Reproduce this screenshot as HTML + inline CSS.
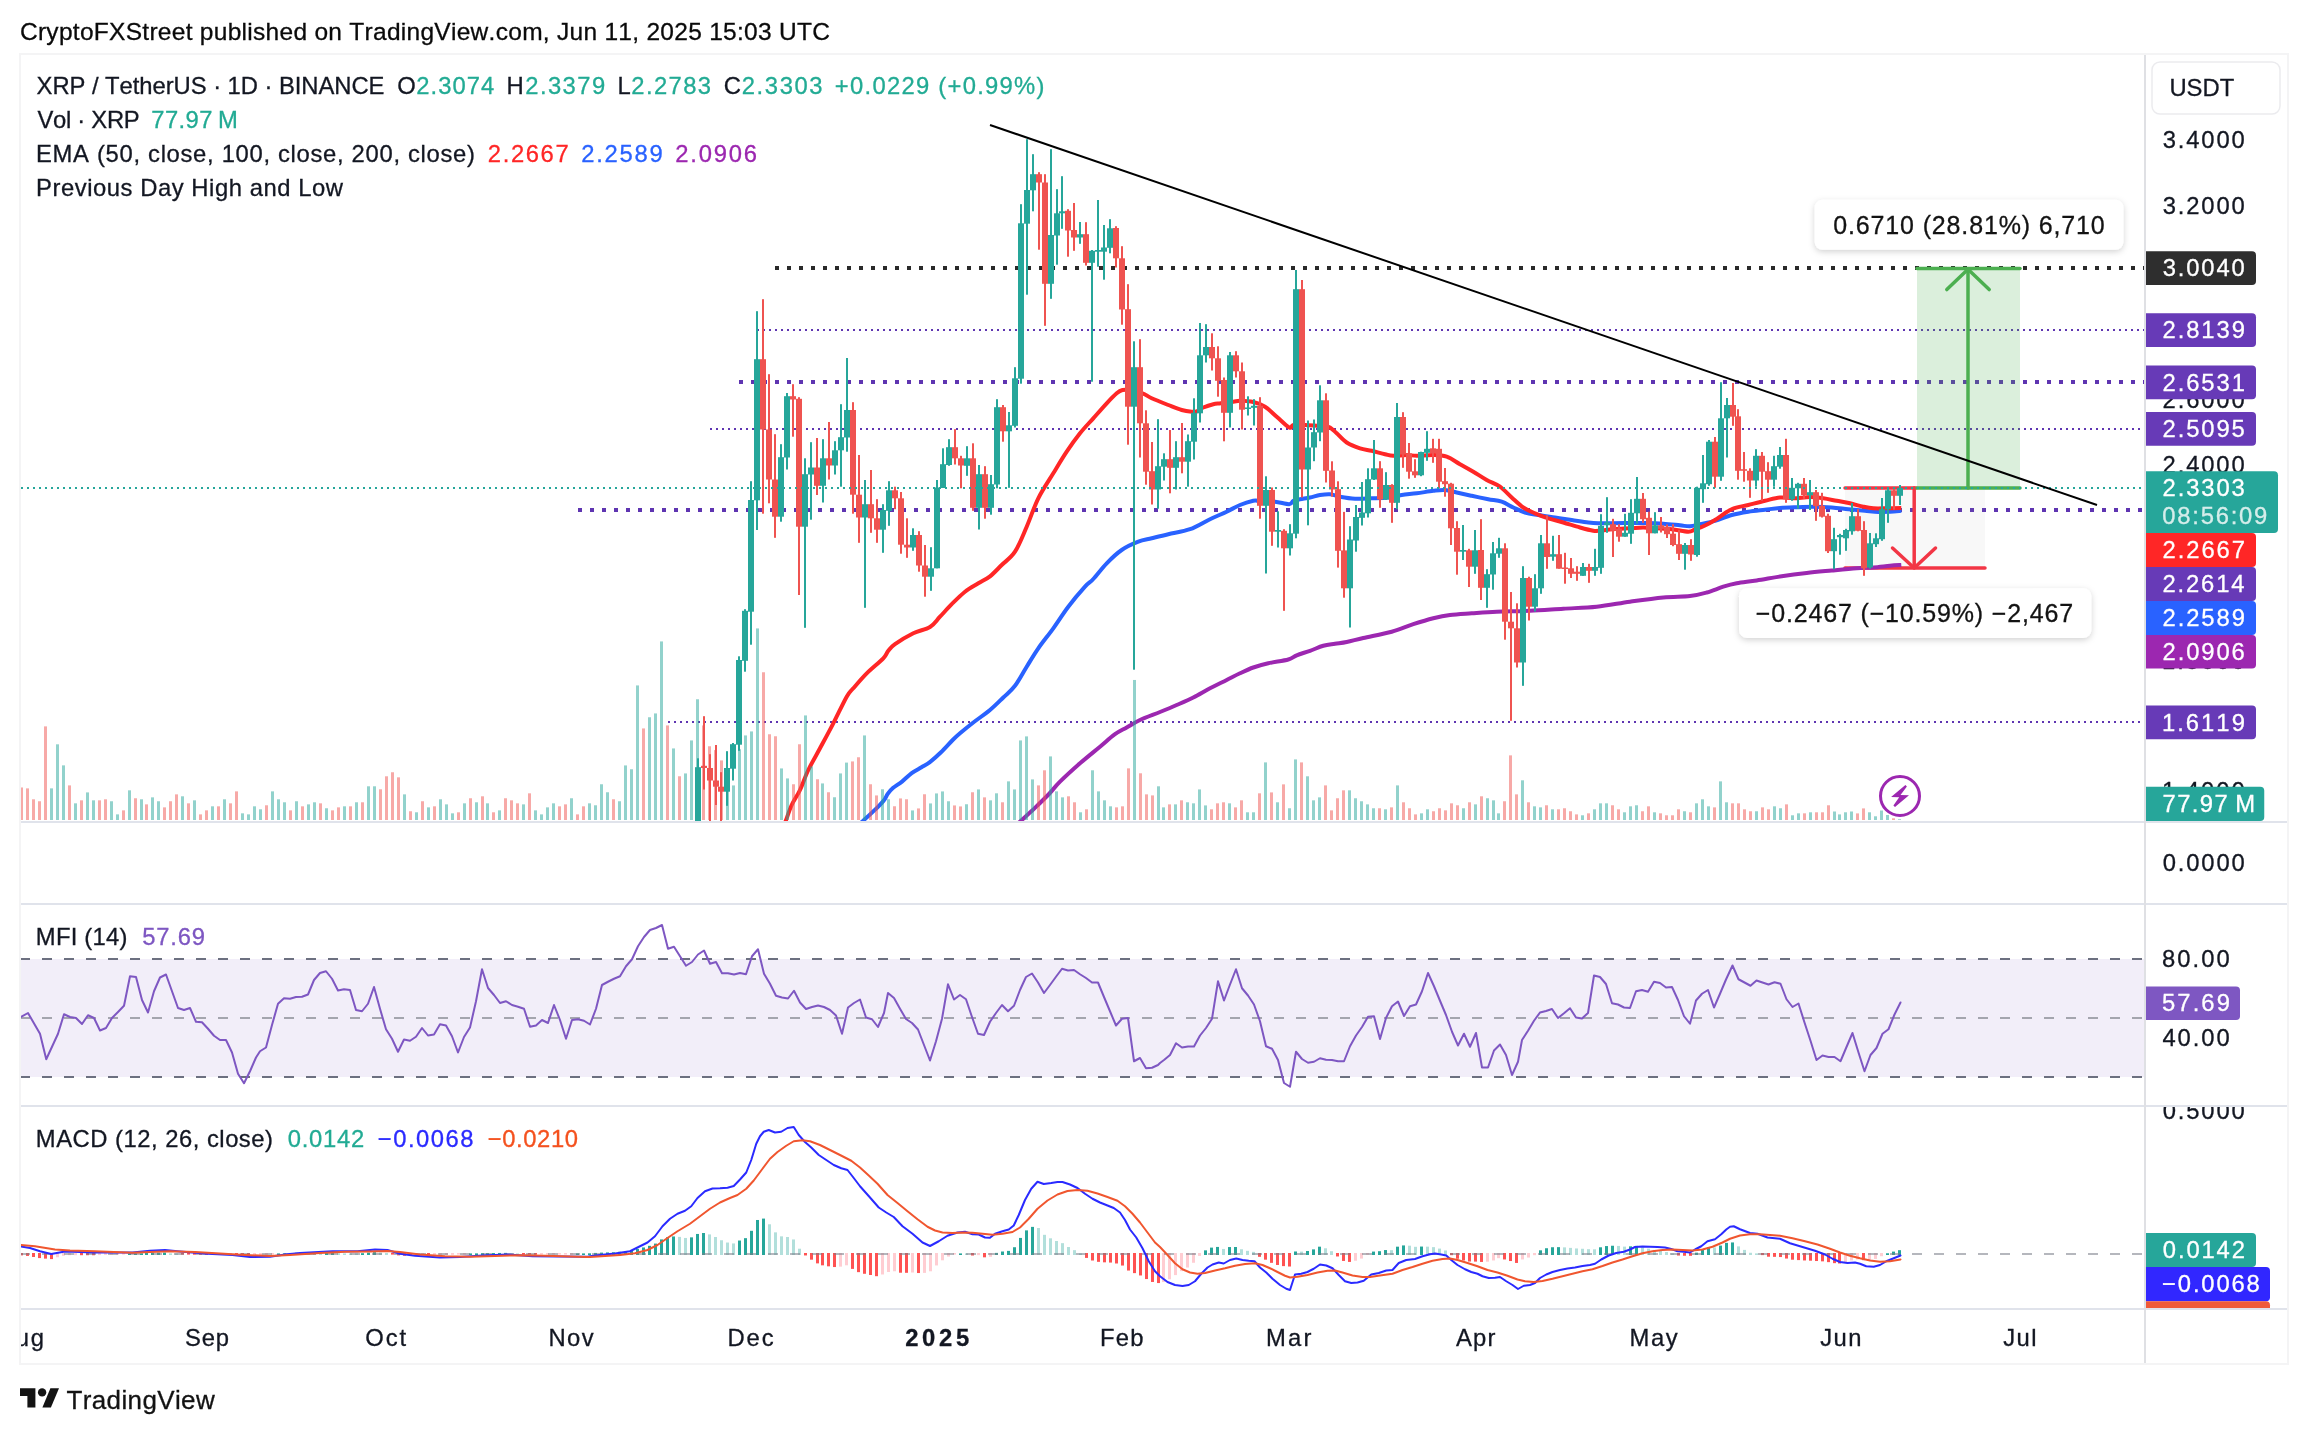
<!DOCTYPE html>
<html lang="en"><head><meta charset="utf-8"><title>XRP / TetherUS chart</title>
<style>html,body{margin:0;padding:0;background:#fff}body{width:2308px;height:1434px;overflow:hidden}svg{display:block;will-change:transform}text{font-family:"Liberation Sans", Arial, sans-serif;white-space:pre;font-kerning:none}</style>
</head><body>
<svg width="2308" height="1434" viewBox="0 0 2308 1434">
<defs>
<clipPath id="cMain"><rect x="21" y="55" width="2123" height="766"/></clipPath>
<clipPath id="cMfi"><rect x="21" y="905" width="2123" height="200"/></clipPath>
<clipPath id="cMacd"><rect x="21" y="1107" width="2123" height="201"/></clipPath>
<clipPath id="cAxMain"><rect x="2146" y="55" width="141" height="766"/></clipPath>
<clipPath id="cAxMacd"><rect x="2146" y="1107" width="141" height="201"/></clipPath>
<clipPath id="cTime"><rect x="21" y="1310" width="2123" height="53"/></clipPath>
<filter id="sh" x="-10%" y="-30%" width="120%" height="170%"><feDropShadow dx="0" dy="2" stdDeviation="3" flood-color="#000" flood-opacity="0.18"/></filter>
</defs>
<rect width="2308" height="1434" fill="#fff"/>
<text x="19.96" y="40.1" font-size="24.5" fill="#0a0a0a" stroke="#0a0a0a" stroke-width="0.3" letter-spacing="0.284">CryptoFXStreet published on TradingView.com, Jun 11, 2025 15:03 UTC</text>
<rect x="20" y="54" width="2268" height="1310" fill="#fff" stroke="#f4f4f5" stroke-width="2"/>
<g clip-path="url(#cMain)">
<line x1="775" y1="268" x2="2144" y2="268" stroke="#2a2a2a" stroke-width="4" stroke-dasharray="4 8"/>
<line x1="757" y1="330" x2="2144" y2="330" stroke="#5e35b1" stroke-width="2" stroke-dasharray="2 4"/>
<line x1="739" y1="382" x2="2144" y2="382" stroke="#5e35b1" stroke-width="4" stroke-dasharray="4 8"/>
<line x1="710" y1="429" x2="2144" y2="429" stroke="#5e35b1" stroke-width="2" stroke-dasharray="2 4"/>
<line x1="578" y1="510" x2="2144" y2="510" stroke="#5e35b1" stroke-width="4" stroke-dasharray="4 8"/>
<line x1="668" y1="722" x2="2144" y2="722" stroke="#5e35b1" stroke-width="2" stroke-dasharray="2 4"/>
<rect x="1917" y="268" width="103" height="220" fill="#4caf50" fill-opacity="0.2"/>
<rect x="1845" y="488" width="140" height="80" fill="#9e9e9e" fill-opacity="0.07"/>
<g fill="none" stroke="#f23645" stroke-width="3.5" stroke-linecap="round">
<line x1="1845" y1="488" x2="1916" y2="488"/><line x1="1845" y1="568" x2="1985" y2="568"/><line x1="1914.2" y1="488" x2="1914.2" y2="567"/>
<polyline points="1892.5,548 1914.2,568 1935.5,548" stroke-linejoin="round"/>
</g>
<g fill="none" stroke="#4caf50" stroke-width="3.5" stroke-linecap="round">
<line x1="1917" y1="488" x2="2020" y2="488"/><line x1="1917" y1="268.5" x2="2020" y2="268.5"/><line x1="1968" y1="488" x2="1968" y2="270"/>
<polyline points="1946.8,289.6 1968,269.2 1989.2,289.6" stroke-linejoin="round"/>
</g>
<path fill="none" stroke="#9c27b0" stroke-width="4" stroke-linejoin="round" stroke-linecap="butt" d="M1010.99 830C1012.79 828.33 1017.77 823.73 1021.8 820C1025.83 816.27 1030.67 811.93 1035.2 807.6C1039.73 803.27 1044.87 798.32 1049 794C1053.13 789.68 1054.83 786.82 1060 781.7C1065.17 776.58 1073.33 769.13 1080 763.3C1086.67 757.47 1094.17 751.55 1100 746.7C1105.83 741.85 1110.55 737.4 1115 734.2C1119.45 731 1122.53 729.87 1126.7 727.5C1130.87 725.13 1134.45 722.58 1140 720C1145.55 717.42 1153.88 714.5 1160 712C1166.12 709.5 1171.15 707.42 1176.7 705C1182.25 702.58 1187.75 700.28 1193.3 697.5C1198.85 694.72 1204.43 691.22 1210 688.3C1215.57 685.38 1221.7 682.5 1226.7 680C1231.7 677.5 1235.57 675.38 1240 673.3C1244.43 671.22 1248.58 669.17 1253.3 667.5C1258.02 665.83 1262.47 664.63 1268.3 663.3C1274.13 661.97 1283.57 660.83 1288.3 659.5C1293.03 658.17 1293.08 656.75 1296.7 655.3C1300.32 653.85 1305.57 652.38 1310 650.8C1314.43 649.22 1319.13 646.97 1323.3 645.8C1327.47 644.63 1331.1 644.43 1335 643.8C1338.9 643.17 1341.98 642.97 1346.7 642C1351.42 641.03 1355.8 639.72 1363.3 638C1370.8 636.28 1383.37 634 1391.7 631.7C1400.03 629.4 1406.37 626.43 1413.3 624.2C1420.23 621.97 1427.18 619.83 1433.3 618.3C1439.42 616.77 1443.6 615.83 1450 615C1456.4 614.17 1463.92 613.85 1471.7 613.3C1479.48 612.75 1486.98 612.12 1496.7 611.7C1506.42 611.28 1518.9 611.3 1530 610.8C1541.1 610.3 1552.18 609.38 1563.3 608.7C1574.42 608.02 1585.58 607.87 1596.7 606.7C1607.82 605.53 1618.9 603.23 1630 601.7C1641.1 600.17 1653.3 598.45 1663.3 597.5C1673.3 596.55 1682.77 596.83 1690 596C1697.23 595.17 1701.15 594.05 1706.7 592.5C1712.25 590.95 1718.3 588.23 1723.3 586.7C1728.3 585.17 1731.13 584.33 1736.7 583.3C1742.27 582.27 1749.2 581.68 1756.7 580.5C1764.2 579.32 1773.37 577.47 1781.7 576.2C1790.03 574.93 1798.37 573.85 1806.7 572.9C1815.03 571.95 1823.37 571.27 1831.7 570.5C1840.03 569.73 1849.77 568.8 1856.7 568.3C1863.63 567.8 1867.75 567.92 1873.3 567.5C1878.85 567.08 1885.33 566.22 1890 565.8C1894.67 565.38 1899.42 565.13 1901.3 565"/>
<path fill="none" stroke="#2962ff" stroke-width="4" stroke-linejoin="round" stroke-linecap="butt" d="M853.13 830C854.78 828.48 859.42 824.2 863 820.9C866.58 817.6 871.13 813.62 874.6 810.2C878.07 806.78 881.62 803.12 883.8 800.4C885.98 797.68 886.18 795.95 887.7 793.9C889.22 791.85 890.52 790.15 892.9 788.1C895.28 786.05 898.87 784.1 902 781.6C905.13 779.1 908.45 775.48 911.7 773.1C914.95 770.72 918.47 769.13 921.5 767.3C924.53 765.47 926.65 764.6 929.9 762.1C933.15 759.6 937.2 755.98 941 752.3C944.8 748.62 949.53 743.17 952.7 740C955.87 736.83 956.57 736.22 960 733.3C963.43 730.38 968.3 726.38 973.3 722.5C978.3 718.62 985 714.17 990 710C995 705.83 999.13 701.53 1003.3 697.5C1007.47 693.47 1011.1 690.93 1015 685.8C1018.9 680.67 1022.82 672.95 1026.7 666.7C1030.58 660.45 1033.87 654.7 1038.3 648.3C1042.73 641.9 1048.3 635.23 1053.3 628.3C1058.3 621.37 1063.02 613.63 1068.3 606.7C1073.58 599.77 1080.83 591.32 1085 586.7C1089.17 582.08 1089.68 582.9 1093.3 579C1096.92 575.1 1101.97 568.13 1106.7 563.3C1111.43 558.47 1116.43 553.6 1121.7 550C1126.97 546.4 1133.3 543.65 1138.3 541.7C1143.3 539.75 1146.7 539.55 1151.7 538.3C1156.7 537.05 1161.92 535.72 1168.3 534.2C1174.68 532.68 1183.05 531.7 1190 529.2C1196.95 526.7 1203.88 522.12 1210 519.2C1216.12 516.28 1221.7 514.07 1226.7 511.7C1231.7 509.33 1235.57 506.82 1240 505C1244.43 503.18 1250.25 501.5 1253.3 500.8C1256.35 500.1 1254.68 500.65 1258.3 500.8C1261.92 500.95 1269.85 501.13 1275 501.7C1280.15 502.27 1286.15 504.35 1289.2 504.2C1292.25 504.05 1291.5 501.63 1293.3 500.8C1295.1 499.97 1297.22 499.75 1300 499.2C1302.78 498.65 1306.67 498.2 1310 497.5C1313.33 496.8 1316.67 495.55 1320 495C1323.33 494.45 1326.67 493.92 1330 494.2C1333.33 494.48 1335.83 495.95 1340 496.7C1344.17 497.45 1349.72 498.43 1355 498.7C1360.28 498.97 1366.15 498.5 1371.7 498.3C1377.25 498.1 1383.3 498.05 1388.3 497.5C1393.3 496.95 1396.97 495.7 1401.7 495C1406.43 494.3 1411.43 494 1416.7 493.3C1421.97 492.6 1428.58 491.35 1433.3 490.8C1438.02 490.25 1441.1 489.72 1445 490C1448.9 490.28 1452.25 491.53 1456.7 492.5C1461.15 493.47 1466.43 494.68 1471.7 495.8C1476.97 496.92 1483.3 498.22 1488.3 499.2C1493.3 500.18 1497.53 500.32 1501.7 501.7C1505.87 503.08 1509.42 505.7 1513.3 507.5C1517.18 509.3 1520.83 511.25 1525 512.5C1529.17 513.75 1533.3 514.17 1538.3 515C1543.3 515.83 1549.43 516.67 1555 517.5C1560.57 518.33 1566.15 519.17 1571.7 520C1577.25 520.83 1583.87 521.95 1588.3 522.5C1592.73 523.05 1594.13 523.17 1598.3 523.3C1602.47 523.43 1608.02 523.35 1613.3 523.3C1618.58 523.25 1624.43 523.05 1630 523C1635.57 522.95 1641.15 522.88 1646.7 523C1652.25 523.12 1657.75 523.32 1663.3 523.7C1668.85 524.08 1675.55 524.87 1680 525.3C1684.45 525.73 1686.67 526.48 1690 526.3C1693.33 526.12 1695.83 525.12 1700 524.2C1704.17 523.28 1709.72 522.33 1715 520.8C1720.28 519.27 1726.15 516.52 1731.7 515C1737.25 513.48 1742.75 512.58 1748.3 511.7C1753.85 510.82 1759.72 510.32 1765 509.7C1770.28 509.08 1774.45 508.42 1780 508C1785.55 507.58 1792.47 507.42 1798.3 507.2C1804.13 506.98 1809.43 506.65 1815 506.7C1820.57 506.75 1826.15 507.08 1831.7 507.5C1837.25 507.92 1842.75 508.65 1848.3 509.2C1853.85 509.75 1860 510.33 1865 510.8C1870 511.27 1874.13 511.85 1878.3 512C1882.47 512.15 1886.17 511.9 1890 511.7C1893.83 511.5 1899.42 510.95 1901.3 510.8"/>
<path fill="none" stroke="#ff2626" stroke-width="4" stroke-linejoin="round" stroke-linecap="butt" d="M782.36 830C782.94 828.47 784.24 824.97 785.8 820.8C787.36 816.63 789.33 810.13 791.7 805C794.07 799.87 797.23 795.83 800 790C802.77 784.17 804.97 776.95 808.3 770C811.63 763.05 815.83 756.08 820 748.3C824.17 740.52 828.85 731.9 833.3 723.3C837.75 714.7 843.37 702.53 846.7 696.7C850.03 690.87 849.97 692.2 853.3 688.3C856.63 684.4 861.7 678.3 866.7 673.3C871.7 668.3 879.7 662.05 883.3 658.3C886.9 654.55 886.35 653.15 888.3 650.8C890.25 648.45 890.83 647.12 895 644.2C899.17 641.28 907.47 636.17 913.3 633.3C919.13 630.43 925.55 629.77 930 627C934.45 624.23 936.38 620.5 940 616.7C943.62 612.9 947.53 608.37 951.7 604.2C955.87 600.03 960.57 595.18 965 591.7C969.43 588.22 974.13 585.87 978.3 583.3C982.47 580.73 986.1 579.35 990 576.3C993.9 573.25 997.53 569.1 1001.7 565C1005.87 560.9 1010.83 558.08 1015 551.7C1019.17 545.32 1022.82 535.6 1026.7 526.7C1030.58 517.8 1033.87 507.2 1038.3 498.3C1042.73 489.4 1048.57 481.07 1053.3 473.3C1058.03 465.53 1062.25 458.37 1066.7 451.7C1071.15 445.03 1075.57 438.87 1080 433.3C1084.43 427.73 1088.85 423.3 1093.3 418.3C1097.75 413.3 1102.8 407.47 1106.7 403.3C1110.6 399.13 1114.07 395.52 1116.7 393.3C1119.33 391.08 1120.28 390.55 1122.5 390C1124.72 389.45 1126.67 389.45 1130 390C1133.33 390.55 1138.88 391.92 1142.5 393.3C1146.12 394.68 1147.4 396.35 1151.7 398.3C1156 400.25 1163.3 403.05 1168.3 405C1173.3 406.95 1177.8 408.88 1181.7 410C1185.6 411.12 1189.2 411.48 1191.7 411.7C1194.2 411.92 1194.77 412 1196.7 411.3C1198.63 410.6 1200.53 408.68 1203.3 407.5C1206.07 406.32 1210.38 404.9 1213.3 404.2C1216.22 403.5 1217.47 403.72 1220.8 403.3C1224.13 402.88 1230.1 402.12 1233.3 401.7C1236.5 401.28 1236.67 400.75 1240 400.8C1243.33 400.85 1249.13 401.02 1253.3 402C1257.47 402.98 1261.1 404.25 1265 406.7C1268.9 409.15 1272.67 413.23 1276.7 416.7C1280.73 420.17 1286.43 426.12 1289.2 427.5C1291.97 428.88 1290.67 425.42 1293.3 425C1295.93 424.58 1301.1 424.87 1305 425C1308.9 425.13 1313.37 425.55 1316.7 425.8C1320.03 426.05 1322.78 426.22 1325 426.5C1327.22 426.78 1328.05 426.37 1330 427.5C1331.95 428.63 1333.92 430.8 1336.7 433.3C1339.48 435.8 1342.82 440 1346.7 442.5C1350.58 445 1355.83 446.92 1360 448.3C1364.17 449.68 1367.53 449.82 1371.7 450.8C1375.87 451.78 1381.4 453.37 1385 454.2C1388.6 455.03 1389.68 455.67 1393.3 455.8C1396.92 455.93 1402.8 455 1406.7 455C1410.6 455 1412.27 455.8 1416.7 455.8C1421.13 455.8 1428.3 454.85 1433.3 455C1438.3 455.15 1442.25 455.17 1446.7 456.7C1451.15 458.23 1455.57 461.7 1460 464.2C1464.43 466.7 1468.85 469.07 1473.3 471.7C1477.75 474.33 1482.25 477.5 1486.7 480C1491.15 482.5 1495.83 483.78 1500 486.7C1504.17 489.62 1507.82 494.03 1511.7 497.5C1515.58 500.97 1519.42 504.87 1523.3 507.5C1527.18 510.13 1530.83 511.5 1535 513.3C1539.17 515.1 1543.58 516.77 1548.3 518.3C1553.02 519.83 1558.02 520.97 1563.3 522.5C1568.58 524.03 1575 526.12 1580 527.5C1585 528.88 1590.25 530.25 1593.3 530.8C1596.35 531.35 1594.97 531.07 1598.3 530.8C1601.63 530.53 1608.02 529.62 1613.3 529.2C1618.58 528.78 1625 528.58 1630 528.3C1635 528.02 1639.13 527.5 1643.3 527.5C1647.47 527.5 1650.27 528.02 1655 528.3C1659.73 528.58 1666.15 528.63 1671.7 529.2C1677.25 529.77 1684.42 531.65 1688.3 531.7C1692.18 531.75 1692.22 530.53 1695 529.5C1697.78 528.47 1701.67 527.08 1705 525.5C1708.33 523.92 1710.55 522.72 1715 520C1719.45 517.28 1726.15 511.7 1731.7 509.2C1737.25 506.7 1742.75 506.4 1748.3 505C1753.85 503.6 1759.72 502.05 1765 500.8C1770.28 499.55 1775.28 497.92 1780 497.5C1784.72 497.08 1788.3 498.38 1793.3 498.3C1798.3 498.22 1805 497 1810 497C1815 497 1818.85 497.67 1823.3 498.3C1827.75 498.93 1832.25 499.97 1836.7 500.8C1841.15 501.63 1845.57 502.32 1850 503.3C1854.43 504.28 1859.42 505.87 1863.3 506.7C1867.18 507.53 1869.4 508.03 1873.3 508.3C1877.2 508.57 1882.03 508.35 1886.7 508.3C1891.37 508.25 1898.87 508.05 1901.3 508"/>
<rect x="20" y="787.47" width="3" height="32.53" fill="#ef5350" fill-opacity="0.5"/>
<rect x="26" y="788.38" width="3" height="31.62" fill="#ef5350" fill-opacity="0.5"/>
<rect x="32" y="799.3" width="3" height="20.7" fill="#ef5350" fill-opacity="0.5"/>
<rect x="38" y="801.25" width="3" height="18.75" fill="#ef5350" fill-opacity="0.5"/>
<rect x="44" y="726.38" width="3" height="93.62" fill="#ef5350" fill-opacity="0.5"/>
<rect x="50" y="788.38" width="3" height="31.62" fill="#26a69a" fill-opacity="0.5"/>
<rect x="56" y="744.32" width="3" height="75.68" fill="#26a69a" fill-opacity="0.5"/>
<rect x="62" y="765.37" width="3" height="54.63" fill="#26a69a" fill-opacity="0.5"/>
<rect x="68" y="785.39" width="3" height="34.61" fill="#ef5350" fill-opacity="0.5"/>
<rect x="74" y="803.33" width="3" height="16.67" fill="#26a69a" fill-opacity="0.5"/>
<rect x="80" y="800.34" width="3" height="19.66" fill="#ef5350" fill-opacity="0.5"/>
<rect x="86" y="792.41" width="3" height="27.59" fill="#26a69a" fill-opacity="0.5"/>
<rect x="92" y="800.34" width="3" height="19.66" fill="#26a69a" fill-opacity="0.5"/>
<rect x="98" y="800.34" width="3" height="19.66" fill="#ef5350" fill-opacity="0.5"/>
<rect x="104" y="799.3" width="3" height="20.7" fill="#ef5350" fill-opacity="0.5"/>
<rect x="110" y="801.25" width="3" height="18.75" fill="#26a69a" fill-opacity="0.5"/>
<rect x="116" y="814.38" width="3" height="5.62" fill="#26a69a" fill-opacity="0.5"/>
<rect x="122" y="810.35" width="3" height="9.65" fill="#ef5350" fill-opacity="0.5"/>
<rect x="128" y="790.33" width="3" height="29.67" fill="#26a69a" fill-opacity="0.5"/>
<rect x="134" y="798.26" width="3" height="21.74" fill="#ef5350" fill-opacity="0.5"/>
<rect x="140" y="799.3" width="3" height="20.7" fill="#26a69a" fill-opacity="0.5"/>
<rect x="145" y="804.37" width="3" height="15.63" fill="#ef5350" fill-opacity="0.5"/>
<rect x="151" y="797.35" width="3" height="22.65" fill="#26a69a" fill-opacity="0.5"/>
<rect x="157" y="801.25" width="3" height="18.75" fill="#26a69a" fill-opacity="0.5"/>
<rect x="163" y="807.36" width="3" height="12.64" fill="#ef5350" fill-opacity="0.5"/>
<rect x="169" y="801.25" width="3" height="18.75" fill="#ef5350" fill-opacity="0.5"/>
<rect x="175" y="794.36" width="3" height="25.64" fill="#ef5350" fill-opacity="0.5"/>
<rect x="181" y="796.31" width="3" height="23.69" fill="#26a69a" fill-opacity="0.5"/>
<rect x="187" y="803.33" width="3" height="16.67" fill="#ef5350" fill-opacity="0.5"/>
<rect x="193" y="800.34" width="3" height="19.66" fill="#26a69a" fill-opacity="0.5"/>
<rect x="199" y="814.38" width="3" height="5.62" fill="#ef5350" fill-opacity="0.5"/>
<rect x="205" y="810.35" width="3" height="9.65" fill="#ef5350" fill-opacity="0.5"/>
<rect x="211" y="806.32" width="3" height="13.68" fill="#26a69a" fill-opacity="0.5"/>
<rect x="217" y="806.32" width="3" height="13.68" fill="#ef5350" fill-opacity="0.5"/>
<rect x="223" y="799.3" width="3" height="20.7" fill="#26a69a" fill-opacity="0.5"/>
<rect x="229" y="803.33" width="3" height="16.67" fill="#ef5350" fill-opacity="0.5"/>
<rect x="235" y="791.37" width="3" height="28.63" fill="#ef5350" fill-opacity="0.5"/>
<rect x="241" y="813.34" width="3" height="6.66" fill="#26a69a" fill-opacity="0.5"/>
<rect x="247" y="814.38" width="3" height="5.62" fill="#26a69a" fill-opacity="0.5"/>
<rect x="253" y="806.32" width="3" height="13.68" fill="#26a69a" fill-opacity="0.5"/>
<rect x="259" y="809.31" width="3" height="10.69" fill="#26a69a" fill-opacity="0.5"/>
<rect x="265" y="805.28" width="3" height="14.72" fill="#ef5350" fill-opacity="0.5"/>
<rect x="271" y="791.37" width="3" height="28.63" fill="#26a69a" fill-opacity="0.5"/>
<rect x="277" y="799.3" width="3" height="20.7" fill="#26a69a" fill-opacity="0.5"/>
<rect x="283" y="802.29" width="3" height="17.71" fill="#26a69a" fill-opacity="0.5"/>
<rect x="289" y="810.35" width="3" height="9.65" fill="#ef5350" fill-opacity="0.5"/>
<rect x="295" y="801.25" width="3" height="18.75" fill="#26a69a" fill-opacity="0.5"/>
<rect x="301" y="806.32" width="3" height="13.68" fill="#ef5350" fill-opacity="0.5"/>
<rect x="307" y="804.37" width="3" height="15.63" fill="#26a69a" fill-opacity="0.5"/>
<rect x="313" y="802.29" width="3" height="17.71" fill="#26a69a" fill-opacity="0.5"/>
<rect x="319" y="803.33" width="3" height="16.67" fill="#ef5350" fill-opacity="0.5"/>
<rect x="325" y="808.27" width="3" height="11.73" fill="#26a69a" fill-opacity="0.5"/>
<rect x="331" y="810.35" width="3" height="9.65" fill="#ef5350" fill-opacity="0.5"/>
<rect x="337" y="807.36" width="3" height="12.64" fill="#ef5350" fill-opacity="0.5"/>
<rect x="343" y="806.32" width="3" height="13.68" fill="#26a69a" fill-opacity="0.5"/>
<rect x="349" y="806.32" width="3" height="13.68" fill="#ef5350" fill-opacity="0.5"/>
<rect x="355" y="802.29" width="3" height="17.71" fill="#26a69a" fill-opacity="0.5"/>
<rect x="361" y="802.29" width="3" height="17.71" fill="#ef5350" fill-opacity="0.5"/>
<rect x="367" y="786.3" width="3" height="33.7" fill="#26a69a" fill-opacity="0.5"/>
<rect x="373" y="786.3" width="3" height="33.7" fill="#26a69a" fill-opacity="0.5"/>
<rect x="379" y="789.29" width="3" height="30.71" fill="#ef5350" fill-opacity="0.5"/>
<rect x="385" y="776.29" width="3" height="43.71" fill="#ef5350" fill-opacity="0.5"/>
<rect x="391" y="772.26" width="3" height="47.74" fill="#ef5350" fill-opacity="0.5"/>
<rect x="397" y="777.33" width="3" height="42.67" fill="#ef5350" fill-opacity="0.5"/>
<rect x="403" y="794.36" width="3" height="25.64" fill="#26a69a" fill-opacity="0.5"/>
<rect x="409" y="811.26" width="3" height="8.74" fill="#ef5350" fill-opacity="0.5"/>
<rect x="415" y="812.3" width="3" height="7.7" fill="#26a69a" fill-opacity="0.5"/>
<rect x="421" y="801.25" width="3" height="18.75" fill="#ef5350" fill-opacity="0.5"/>
<rect x="427" y="807.36" width="3" height="12.64" fill="#26a69a" fill-opacity="0.5"/>
<rect x="433" y="806.32" width="3" height="13.68" fill="#ef5350" fill-opacity="0.5"/>
<rect x="439" y="799.3" width="3" height="20.7" fill="#26a69a" fill-opacity="0.5"/>
<rect x="445" y="804.37" width="3" height="15.63" fill="#26a69a" fill-opacity="0.5"/>
<rect x="451" y="813.34" width="3" height="6.66" fill="#26a69a" fill-opacity="0.5"/>
<rect x="457" y="812.3" width="3" height="7.7" fill="#ef5350" fill-opacity="0.5"/>
<rect x="463" y="803.33" width="3" height="16.67" fill="#26a69a" fill-opacity="0.5"/>
<rect x="469" y="798.26" width="3" height="21.74" fill="#ef5350" fill-opacity="0.5"/>
<rect x="475" y="802.29" width="3" height="17.71" fill="#26a69a" fill-opacity="0.5"/>
<rect x="481" y="796.31" width="3" height="23.69" fill="#ef5350" fill-opacity="0.5"/>
<rect x="486" y="803.33" width="3" height="16.67" fill="#26a69a" fill-opacity="0.5"/>
<rect x="492" y="812.3" width="3" height="7.7" fill="#ef5350" fill-opacity="0.5"/>
<rect x="498" y="810.35" width="3" height="9.65" fill="#26a69a" fill-opacity="0.5"/>
<rect x="504" y="798.26" width="3" height="21.74" fill="#ef5350" fill-opacity="0.5"/>
<rect x="510" y="800.34" width="3" height="19.66" fill="#ef5350" fill-opacity="0.5"/>
<rect x="516" y="803.33" width="3" height="16.67" fill="#ef5350" fill-opacity="0.5"/>
<rect x="522" y="804.37" width="3" height="15.63" fill="#26a69a" fill-opacity="0.5"/>
<rect x="528" y="793.32" width="3" height="26.68" fill="#ef5350" fill-opacity="0.5"/>
<rect x="534" y="810.35" width="3" height="9.65" fill="#26a69a" fill-opacity="0.5"/>
<rect x="540" y="814.38" width="3" height="5.62" fill="#26a69a" fill-opacity="0.5"/>
<rect x="546" y="807.36" width="3" height="12.64" fill="#26a69a" fill-opacity="0.5"/>
<rect x="552" y="803.33" width="3" height="16.67" fill="#26a69a" fill-opacity="0.5"/>
<rect x="558" y="806.32" width="3" height="13.68" fill="#ef5350" fill-opacity="0.5"/>
<rect x="564" y="804.37" width="3" height="15.63" fill="#ef5350" fill-opacity="0.5"/>
<rect x="570" y="798.26" width="3" height="21.74" fill="#26a69a" fill-opacity="0.5"/>
<rect x="576" y="814.38" width="3" height="5.62" fill="#ef5350" fill-opacity="0.5"/>
<rect x="582" y="806.32" width="3" height="13.68" fill="#ef5350" fill-opacity="0.5"/>
<rect x="588" y="803.33" width="3" height="16.67" fill="#26a69a" fill-opacity="0.5"/>
<rect x="594" y="805.28" width="3" height="14.72" fill="#26a69a" fill-opacity="0.5"/>
<rect x="600" y="784.27" width="3" height="35.73" fill="#26a69a" fill-opacity="0.5"/>
<rect x="606" y="792.27" width="3" height="27.73" fill="#26a69a" fill-opacity="0.5"/>
<rect x="612" y="799.27" width="3" height="20.73" fill="#ef5350" fill-opacity="0.5"/>
<rect x="618" y="801.27" width="3" height="18.73" fill="#26a69a" fill-opacity="0.5"/>
<rect x="624" y="765.43" width="3" height="54.57" fill="#26a69a" fill-opacity="0.5"/>
<rect x="630" y="769.27" width="3" height="50.73" fill="#26a69a" fill-opacity="0.5"/>
<rect x="636" y="685.43" width="3" height="134.57" fill="#26a69a" fill-opacity="0.5"/>
<rect x="642" y="728.43" width="3" height="91.57" fill="#ef5350" fill-opacity="0.5"/>
<rect x="648" y="717.27" width="3" height="102.73" fill="#26a69a" fill-opacity="0.5"/>
<rect x="654" y="713.43" width="3" height="106.57" fill="#26a69a" fill-opacity="0.5"/>
<rect x="660" y="641.43" width="3" height="178.57" fill="#26a69a" fill-opacity="0.5"/>
<rect x="666" y="725.43" width="3" height="94.57" fill="#ef5350" fill-opacity="0.5"/>
<rect x="672" y="748.43" width="3" height="71.57" fill="#26a69a" fill-opacity="0.5"/>
<rect x="678" y="776.27" width="3" height="43.73" fill="#ef5350" fill-opacity="0.5"/>
<rect x="684" y="773.43" width="3" height="46.57" fill="#26a69a" fill-opacity="0.5"/>
<rect x="690" y="740.43" width="3" height="79.57" fill="#26a69a" fill-opacity="0.5"/>
<rect x="696" y="699.27" width="3" height="120.73" fill="#26a69a" fill-opacity="0.5"/>
<rect x="702" y="725.43" width="3" height="94.57" fill="#ef5350" fill-opacity="0.5"/>
<rect x="708" y="746.27" width="3" height="73.73" fill="#ef5350" fill-opacity="0.5"/>
<rect x="714" y="750.1" width="3" height="69.9" fill="#ef5350" fill-opacity="0.5"/>
<rect x="720" y="760.43" width="3" height="59.57" fill="#ef5350" fill-opacity="0.5"/>
<rect x="726" y="772.6" width="3" height="47.4" fill="#26a69a" fill-opacity="0.5"/>
<rect x="732" y="785.43" width="3" height="34.57" fill="#26a69a" fill-opacity="0.5"/>
<rect x="738" y="749.27" width="3" height="70.73" fill="#26a69a" fill-opacity="0.5"/>
<rect x="744" y="735.43" width="3" height="84.57" fill="#26a69a" fill-opacity="0.5"/>
<rect x="750" y="731.43" width="3" height="88.57" fill="#26a69a" fill-opacity="0.5"/>
<rect x="756" y="628.43" width="3" height="191.57" fill="#26a69a" fill-opacity="0.5"/>
<rect x="762" y="672.27" width="3" height="147.73" fill="#ef5350" fill-opacity="0.5"/>
<rect x="768" y="734.27" width="3" height="85.73" fill="#ef5350" fill-opacity="0.5"/>
<rect x="774" y="736.27" width="3" height="83.73" fill="#ef5350" fill-opacity="0.5"/>
<rect x="780" y="768.43" width="3" height="51.57" fill="#26a69a" fill-opacity="0.5"/>
<rect x="786" y="778.43" width="3" height="41.57" fill="#26a69a" fill-opacity="0.5"/>
<rect x="792" y="784.27" width="3" height="35.73" fill="#ef5350" fill-opacity="0.5"/>
<rect x="798" y="744.27" width="3" height="75.73" fill="#ef5350" fill-opacity="0.5"/>
<rect x="804" y="715.43" width="3" height="104.57" fill="#26a69a" fill-opacity="0.5"/>
<rect x="810" y="766.43" width="3" height="53.57" fill="#26a69a" fill-opacity="0.5"/>
<rect x="816" y="779.27" width="3" height="40.73" fill="#ef5350" fill-opacity="0.5"/>
<rect x="821" y="783.43" width="3" height="36.57" fill="#26a69a" fill-opacity="0.5"/>
<rect x="827" y="792.27" width="3" height="27.73" fill="#ef5350" fill-opacity="0.5"/>
<rect x="833" y="797.27" width="3" height="22.73" fill="#26a69a" fill-opacity="0.5"/>
<rect x="839" y="773.43" width="3" height="46.57" fill="#26a69a" fill-opacity="0.5"/>
<rect x="845" y="762.6" width="3" height="57.4" fill="#26a69a" fill-opacity="0.5"/>
<rect x="851" y="761.43" width="3" height="58.57" fill="#ef5350" fill-opacity="0.5"/>
<rect x="857" y="757.27" width="3" height="62.73" fill="#ef5350" fill-opacity="0.5"/>
<rect x="863" y="735.43" width="3" height="84.57" fill="#26a69a" fill-opacity="0.5"/>
<rect x="869" y="784.27" width="3" height="35.73" fill="#ef5350" fill-opacity="0.5"/>
<rect x="875" y="795.43" width="3" height="24.57" fill="#ef5350" fill-opacity="0.5"/>
<rect x="881" y="789.27" width="3" height="30.73" fill="#26a69a" fill-opacity="0.5"/>
<rect x="887" y="799.27" width="3" height="20.73" fill="#26a69a" fill-opacity="0.5"/>
<rect x="893" y="806.27" width="3" height="13.73" fill="#ef5350" fill-opacity="0.5"/>
<rect x="899" y="798.43" width="3" height="21.57" fill="#ef5350" fill-opacity="0.5"/>
<rect x="905" y="799.27" width="3" height="20.73" fill="#ef5350" fill-opacity="0.5"/>
<rect x="911" y="810.43" width="3" height="9.57" fill="#26a69a" fill-opacity="0.5"/>
<rect x="917" y="808.43" width="3" height="11.57" fill="#ef5350" fill-opacity="0.5"/>
<rect x="923" y="794.27" width="3" height="25.73" fill="#ef5350" fill-opacity="0.5"/>
<rect x="929" y="803.43" width="3" height="16.57" fill="#26a69a" fill-opacity="0.5"/>
<rect x="935" y="793.43" width="3" height="26.57" fill="#26a69a" fill-opacity="0.5"/>
<rect x="941" y="791.43" width="3" height="28.57" fill="#26a69a" fill-opacity="0.5"/>
<rect x="947" y="801.27" width="3" height="18.73" fill="#26a69a" fill-opacity="0.5"/>
<rect x="953" y="805.43" width="3" height="14.57" fill="#ef5350" fill-opacity="0.5"/>
<rect x="959" y="806.43" width="3" height="13.57" fill="#ef5350" fill-opacity="0.5"/>
<rect x="965" y="804.27" width="3" height="15.73" fill="#26a69a" fill-opacity="0.5"/>
<rect x="971" y="792.27" width="3" height="27.73" fill="#ef5350" fill-opacity="0.5"/>
<rect x="977" y="789.42" width="3" height="30.58" fill="#26a69a" fill-opacity="0.5"/>
<rect x="983" y="797.35" width="3" height="22.65" fill="#ef5350" fill-opacity="0.5"/>
<rect x="989" y="800.34" width="3" height="19.66" fill="#26a69a" fill-opacity="0.5"/>
<rect x="995" y="793.32" width="3" height="26.68" fill="#26a69a" fill-opacity="0.5"/>
<rect x="1001" y="802.29" width="3" height="17.71" fill="#ef5350" fill-opacity="0.5"/>
<rect x="1007" y="781.36" width="3" height="38.64" fill="#26a69a" fill-opacity="0.5"/>
<rect x="1013" y="789.42" width="3" height="30.58" fill="#26a69a" fill-opacity="0.5"/>
<rect x="1019" y="740.42" width="3" height="79.58" fill="#26a69a" fill-opacity="0.5"/>
<rect x="1025" y="736.39" width="3" height="83.61" fill="#26a69a" fill-opacity="0.5"/>
<rect x="1031" y="779.41" width="3" height="40.59" fill="#26a69a" fill-opacity="0.5"/>
<rect x="1037" y="785.39" width="3" height="34.61" fill="#ef5350" fill-opacity="0.5"/>
<rect x="1043" y="770.31" width="3" height="49.69" fill="#ef5350" fill-opacity="0.5"/>
<rect x="1049" y="756.41" width="3" height="63.59" fill="#26a69a" fill-opacity="0.5"/>
<rect x="1055" y="791.37" width="3" height="28.63" fill="#26a69a" fill-opacity="0.5"/>
<rect x="1061" y="797.35" width="3" height="22.65" fill="#26a69a" fill-opacity="0.5"/>
<rect x="1067" y="796.31" width="3" height="23.69" fill="#ef5350" fill-opacity="0.5"/>
<rect x="1073" y="802.29" width="3" height="17.71" fill="#ef5350" fill-opacity="0.5"/>
<rect x="1079" y="812.3" width="3" height="7.7" fill="#26a69a" fill-opacity="0.5"/>
<rect x="1085" y="809.31" width="3" height="10.69" fill="#ef5350" fill-opacity="0.5"/>
<rect x="1091" y="770.31" width="3" height="49.69" fill="#26a69a" fill-opacity="0.5"/>
<rect x="1097" y="791.37" width="3" height="28.63" fill="#26a69a" fill-opacity="0.5"/>
<rect x="1103" y="800.34" width="3" height="19.66" fill="#26a69a" fill-opacity="0.5"/>
<rect x="1109" y="806.32" width="3" height="13.68" fill="#26a69a" fill-opacity="0.5"/>
<rect x="1115" y="807.36" width="3" height="12.64" fill="#ef5350" fill-opacity="0.5"/>
<rect x="1121" y="806.32" width="3" height="13.68" fill="#ef5350" fill-opacity="0.5"/>
<rect x="1127" y="768.36" width="3" height="51.64" fill="#ef5350" fill-opacity="0.5"/>
<rect x="1133" y="679.97" width="3" height="140.03" fill="#26a69a" fill-opacity="0.5"/>
<rect x="1139" y="773.3" width="3" height="46.7" fill="#ef5350" fill-opacity="0.5"/>
<rect x="1145" y="794.36" width="3" height="25.64" fill="#ef5350" fill-opacity="0.5"/>
<rect x="1151" y="795.4" width="3" height="24.6" fill="#ef5350" fill-opacity="0.5"/>
<rect x="1157" y="786.3" width="3" height="33.7" fill="#26a69a" fill-opacity="0.5"/>
<rect x="1162" y="807.36" width="3" height="12.64" fill="#26a69a" fill-opacity="0.5"/>
<rect x="1168" y="804.37" width="3" height="15.63" fill="#ef5350" fill-opacity="0.5"/>
<rect x="1174" y="804.37" width="3" height="15.63" fill="#26a69a" fill-opacity="0.5"/>
<rect x="1180" y="800.34" width="3" height="19.66" fill="#ef5350" fill-opacity="0.5"/>
<rect x="1186" y="802.29" width="3" height="17.71" fill="#26a69a" fill-opacity="0.5"/>
<rect x="1192" y="803.33" width="3" height="16.67" fill="#26a69a" fill-opacity="0.5"/>
<rect x="1198" y="789.42" width="3" height="30.58" fill="#26a69a" fill-opacity="0.5"/>
<rect x="1204" y="805.41" width="3" height="14.59" fill="#26a69a" fill-opacity="0.5"/>
<rect x="1210" y="809.31" width="3" height="10.69" fill="#ef5350" fill-opacity="0.5"/>
<rect x="1216" y="803.33" width="3" height="16.67" fill="#ef5350" fill-opacity="0.5"/>
<rect x="1222" y="802.29" width="3" height="17.71" fill="#ef5350" fill-opacity="0.5"/>
<rect x="1228" y="803.33" width="3" height="16.67" fill="#26a69a" fill-opacity="0.5"/>
<rect x="1234" y="807.36" width="3" height="12.64" fill="#ef5350" fill-opacity="0.5"/>
<rect x="1240" y="800.34" width="3" height="19.66" fill="#ef5350" fill-opacity="0.5"/>
<rect x="1246" y="812.3" width="3" height="7.7" fill="#26a69a" fill-opacity="0.5"/>
<rect x="1252" y="812.3" width="3" height="7.7" fill="#26a69a" fill-opacity="0.5"/>
<rect x="1258" y="793.32" width="3" height="26.68" fill="#ef5350" fill-opacity="0.5"/>
<rect x="1264" y="762.39" width="3" height="57.61" fill="#26a69a" fill-opacity="0.5"/>
<rect x="1270" y="792.41" width="3" height="27.59" fill="#ef5350" fill-opacity="0.5"/>
<rect x="1276" y="802.29" width="3" height="17.71" fill="#26a69a" fill-opacity="0.5"/>
<rect x="1282" y="784.35" width="3" height="35.65" fill="#ef5350" fill-opacity="0.5"/>
<rect x="1288" y="808.27" width="3" height="11.73" fill="#26a69a" fill-opacity="0.5"/>
<rect x="1294" y="759.4" width="3" height="60.6" fill="#26a69a" fill-opacity="0.5"/>
<rect x="1300" y="762.39" width="3" height="57.61" fill="#ef5350" fill-opacity="0.5"/>
<rect x="1306" y="776.29" width="3" height="43.71" fill="#26a69a" fill-opacity="0.5"/>
<rect x="1312" y="800.34" width="3" height="19.66" fill="#26a69a" fill-opacity="0.5"/>
<rect x="1318" y="797.35" width="3" height="22.65" fill="#26a69a" fill-opacity="0.5"/>
<rect x="1324" y="785.39" width="3" height="34.61" fill="#ef5350" fill-opacity="0.5"/>
<rect x="1330" y="810.35" width="3" height="9.65" fill="#ef5350" fill-opacity="0.5"/>
<rect x="1336" y="798.26" width="3" height="21.74" fill="#ef5350" fill-opacity="0.5"/>
<rect x="1342" y="790.33" width="3" height="29.67" fill="#ef5350" fill-opacity="0.5"/>
<rect x="1348" y="790.33" width="3" height="29.67" fill="#26a69a" fill-opacity="0.5"/>
<rect x="1354" y="798.26" width="3" height="21.74" fill="#26a69a" fill-opacity="0.5"/>
<rect x="1360" y="801.25" width="3" height="18.75" fill="#26a69a" fill-opacity="0.5"/>
<rect x="1366" y="804.37" width="3" height="15.63" fill="#26a69a" fill-opacity="0.5"/>
<rect x="1372" y="808.27" width="3" height="11.73" fill="#26a69a" fill-opacity="0.5"/>
<rect x="1378" y="808.27" width="3" height="11.73" fill="#ef5350" fill-opacity="0.5"/>
<rect x="1384" y="809.31" width="3" height="10.69" fill="#26a69a" fill-opacity="0.5"/>
<rect x="1390" y="807.36" width="3" height="12.64" fill="#ef5350" fill-opacity="0.5"/>
<rect x="1396" y="785.39" width="3" height="34.61" fill="#26a69a" fill-opacity="0.5"/>
<rect x="1402" y="802.29" width="3" height="17.71" fill="#ef5350" fill-opacity="0.5"/>
<rect x="1408" y="808.27" width="3" height="11.73" fill="#ef5350" fill-opacity="0.5"/>
<rect x="1414" y="814.38" width="3" height="5.62" fill="#ef5350" fill-opacity="0.5"/>
<rect x="1420" y="813.34" width="3" height="6.66" fill="#26a69a" fill-opacity="0.5"/>
<rect x="1426" y="809.31" width="3" height="10.69" fill="#26a69a" fill-opacity="0.5"/>
<rect x="1432" y="811.26" width="3" height="8.74" fill="#ef5350" fill-opacity="0.5"/>
<rect x="1438" y="808.27" width="3" height="11.73" fill="#ef5350" fill-opacity="0.5"/>
<rect x="1444" y="810.35" width="3" height="9.65" fill="#ef5350" fill-opacity="0.5"/>
<rect x="1450" y="803.33" width="3" height="16.67" fill="#ef5350" fill-opacity="0.5"/>
<rect x="1456" y="805.28" width="3" height="14.72" fill="#ef5350" fill-opacity="0.5"/>
<rect x="1462" y="808.27" width="3" height="11.73" fill="#26a69a" fill-opacity="0.5"/>
<rect x="1468" y="802.29" width="3" height="17.71" fill="#ef5350" fill-opacity="0.5"/>
<rect x="1474" y="804.37" width="3" height="15.63" fill="#26a69a" fill-opacity="0.5"/>
<rect x="1480" y="796.31" width="3" height="23.69" fill="#ef5350" fill-opacity="0.5"/>
<rect x="1486" y="798.26" width="3" height="21.74" fill="#26a69a" fill-opacity="0.5"/>
<rect x="1492" y="800.34" width="3" height="19.66" fill="#26a69a" fill-opacity="0.5"/>
<rect x="1497" y="813.34" width="3" height="6.66" fill="#26a69a" fill-opacity="0.5"/>
<rect x="1503" y="801.25" width="3" height="18.75" fill="#ef5350" fill-opacity="0.5"/>
<rect x="1509" y="755.37" width="3" height="64.63" fill="#ef5350" fill-opacity="0.5"/>
<rect x="1515" y="794.36" width="3" height="25.64" fill="#ef5350" fill-opacity="0.5"/>
<rect x="1521" y="780.32" width="3" height="39.68" fill="#26a69a" fill-opacity="0.5"/>
<rect x="1527" y="802.29" width="3" height="17.71" fill="#ef5350" fill-opacity="0.5"/>
<rect x="1533" y="806.32" width="3" height="13.68" fill="#26a69a" fill-opacity="0.5"/>
<rect x="1539" y="807.36" width="3" height="12.64" fill="#26a69a" fill-opacity="0.5"/>
<rect x="1545" y="805.28" width="3" height="14.72" fill="#ef5350" fill-opacity="0.5"/>
<rect x="1551" y="809.31" width="3" height="10.69" fill="#26a69a" fill-opacity="0.5"/>
<rect x="1557" y="809.31" width="3" height="10.69" fill="#ef5350" fill-opacity="0.5"/>
<rect x="1563" y="808.27" width="3" height="11.73" fill="#ef5350" fill-opacity="0.5"/>
<rect x="1569" y="811.26" width="3" height="8.74" fill="#ef5350" fill-opacity="0.5"/>
<rect x="1575" y="814.38" width="3" height="5.62" fill="#ef5350" fill-opacity="0.5"/>
<rect x="1581" y="815.29" width="3" height="4.71" fill="#26a69a" fill-opacity="0.5"/>
<rect x="1587" y="813.34" width="3" height="6.66" fill="#ef5350" fill-opacity="0.5"/>
<rect x="1593" y="809.31" width="3" height="10.69" fill="#26a69a" fill-opacity="0.5"/>
<rect x="1599" y="803.33" width="3" height="16.67" fill="#26a69a" fill-opacity="0.5"/>
<rect x="1605" y="803.33" width="3" height="16.67" fill="#26a69a" fill-opacity="0.5"/>
<rect x="1611" y="805.28" width="3" height="14.72" fill="#ef5350" fill-opacity="0.5"/>
<rect x="1617" y="809.31" width="3" height="10.69" fill="#ef5350" fill-opacity="0.5"/>
<rect x="1623" y="812.3" width="3" height="7.7" fill="#26a69a" fill-opacity="0.5"/>
<rect x="1629" y="806.32" width="3" height="13.68" fill="#26a69a" fill-opacity="0.5"/>
<rect x="1635" y="805.28" width="3" height="14.72" fill="#26a69a" fill-opacity="0.5"/>
<rect x="1641" y="811.26" width="3" height="8.74" fill="#ef5350" fill-opacity="0.5"/>
<rect x="1647" y="806.32" width="3" height="13.68" fill="#ef5350" fill-opacity="0.5"/>
<rect x="1653" y="812.3" width="3" height="7.7" fill="#26a69a" fill-opacity="0.5"/>
<rect x="1659" y="813.34" width="3" height="6.66" fill="#ef5350" fill-opacity="0.5"/>
<rect x="1665" y="815.29" width="3" height="4.71" fill="#ef5350" fill-opacity="0.5"/>
<rect x="1671" y="815.29" width="3" height="4.71" fill="#ef5350" fill-opacity="0.5"/>
<rect x="1677" y="809.31" width="3" height="10.69" fill="#ef5350" fill-opacity="0.5"/>
<rect x="1683" y="811.26" width="3" height="8.74" fill="#26a69a" fill-opacity="0.5"/>
<rect x="1689" y="812.3" width="3" height="7.7" fill="#ef5350" fill-opacity="0.5"/>
<rect x="1695" y="803.33" width="3" height="16.67" fill="#26a69a" fill-opacity="0.5"/>
<rect x="1701" y="799.3" width="3" height="20.7" fill="#26a69a" fill-opacity="0.5"/>
<rect x="1707" y="806.32" width="3" height="13.68" fill="#26a69a" fill-opacity="0.5"/>
<rect x="1713" y="807.36" width="3" height="12.64" fill="#ef5350" fill-opacity="0.5"/>
<rect x="1719" y="781.36" width="3" height="38.64" fill="#26a69a" fill-opacity="0.5"/>
<rect x="1725" y="802.29" width="3" height="17.71" fill="#26a69a" fill-opacity="0.5"/>
<rect x="1731" y="803.33" width="3" height="16.67" fill="#ef5350" fill-opacity="0.5"/>
<rect x="1737" y="803.33" width="3" height="16.67" fill="#ef5350" fill-opacity="0.5"/>
<rect x="1743" y="809.31" width="3" height="10.69" fill="#ef5350" fill-opacity="0.5"/>
<rect x="1749" y="811.26" width="3" height="8.74" fill="#ef5350" fill-opacity="0.5"/>
<rect x="1755" y="811.26" width="3" height="8.74" fill="#26a69a" fill-opacity="0.5"/>
<rect x="1761" y="807.36" width="3" height="12.64" fill="#ef5350" fill-opacity="0.5"/>
<rect x="1767" y="809.31" width="3" height="10.69" fill="#ef5350" fill-opacity="0.5"/>
<rect x="1773" y="806.32" width="3" height="13.68" fill="#26a69a" fill-opacity="0.5"/>
<rect x="1779" y="808.27" width="3" height="11.73" fill="#26a69a" fill-opacity="0.5"/>
<rect x="1785" y="804.37" width="3" height="15.63" fill="#ef5350" fill-opacity="0.5"/>
<rect x="1791" y="815.29" width="3" height="4.71" fill="#26a69a" fill-opacity="0.5"/>
<rect x="1797" y="813.34" width="3" height="6.66" fill="#26a69a" fill-opacity="0.5"/>
<rect x="1803" y="813.34" width="3" height="6.66" fill="#ef5350" fill-opacity="0.5"/>
<rect x="1809" y="812.3" width="3" height="7.7" fill="#26a69a" fill-opacity="0.5"/>
<rect x="1815" y="812.3" width="3" height="7.7" fill="#ef5350" fill-opacity="0.5"/>
<rect x="1821" y="812.3" width="3" height="7.7" fill="#ef5350" fill-opacity="0.5"/>
<rect x="1827" y="805.28" width="3" height="14.72" fill="#ef5350" fill-opacity="0.5"/>
<rect x="1833" y="811.5" width="3" height="8.5" fill="#26a69a" fill-opacity="0.5"/>
<rect x="1838" y="814.4" width="3" height="5.6" fill="#26a69a" fill-opacity="0.5"/>
<rect x="1844" y="812.3" width="3" height="7.7" fill="#26a69a" fill-opacity="0.5"/>
<rect x="1850" y="811.5" width="3" height="8.5" fill="#26a69a" fill-opacity="0.5"/>
<rect x="1856" y="813.4" width="3" height="6.6" fill="#ef5350" fill-opacity="0.5"/>
<rect x="1862" y="808.4" width="3" height="11.6" fill="#ef5350" fill-opacity="0.5"/>
<rect x="1868" y="812.3" width="3" height="7.7" fill="#26a69a" fill-opacity="0.5"/>
<rect x="1874" y="816.3" width="3" height="3.7" fill="#26a69a" fill-opacity="0.5"/>
<rect x="1880" y="810.5" width="3" height="9.5" fill="#26a69a" fill-opacity="0.5"/>
<rect x="1886" y="815" width="3" height="5" fill="#26a69a" fill-opacity="0.5"/>
<rect x="1892" y="818.3" width="3" height="1.7" fill="#ef5350" fill-opacity="0.5"/>
<rect x="1898" y="819.2" width="3" height="0.8" fill="#26a69a" fill-opacity="0.5"/>
<rect x="697" y="758.3" width="2" height="71.7" fill="#26a69a"/>
<rect x="695" y="767.2" width="6" height="62.8" fill="#26a69a"/>
<rect x="703" y="716.2" width="2" height="73.3" fill="#ef5350"/>
<rect x="701" y="765.8" width="6" height="2.2" fill="#ef5350"/>
<rect x="709" y="754.2" width="2" height="75.8" fill="#ef5350"/>
<rect x="707" y="768" width="6" height="12.5" fill="#ef5350"/>
<rect x="715" y="745" width="2" height="60" fill="#ef5350"/>
<rect x="713" y="780.5" width="6" height="6.2" fill="#ef5350"/>
<rect x="720" y="772.2" width="2" height="57.8" fill="#ef5350"/>
<rect x="718" y="786.7" width="6" height="5" fill="#ef5350"/>
<rect x="726" y="751.2" width="2" height="54.6" fill="#26a69a"/>
<rect x="724" y="768" width="6" height="23.7" fill="#26a69a"/>
<rect x="732" y="743" width="2" height="37.5" fill="#26a69a"/>
<rect x="730" y="744.2" width="6" height="24.5" fill="#26a69a"/>
<rect x="738" y="656.3" width="2" height="94.5" fill="#26a69a"/>
<rect x="736" y="660" width="6" height="84.7" fill="#26a69a"/>
<rect x="744" y="609.2" width="2" height="62.5" fill="#26a69a"/>
<rect x="742" y="610.8" width="6" height="50" fill="#26a69a"/>
<rect x="750" y="481.2" width="2" height="163.5" fill="#26a69a"/>
<rect x="748" y="500" width="6" height="111.7" fill="#26a69a"/>
<rect x="756" y="311.2" width="2" height="218.8" fill="#26a69a"/>
<rect x="754" y="359.2" width="6" height="141.1" fill="#26a69a"/>
<rect x="762" y="299.2" width="2" height="214.5" fill="#ef5350"/>
<rect x="760" y="359.2" width="6" height="70.3" fill="#ef5350"/>
<rect x="768" y="374.2" width="2" height="129.1" fill="#ef5350"/>
<rect x="766" y="429.5" width="6" height="50" fill="#ef5350"/>
<rect x="774" y="434.2" width="2" height="103.6" fill="#ef5350"/>
<rect x="772" y="479.5" width="6" height="37.2" fill="#ef5350"/>
<rect x="780" y="444.2" width="2" height="77.5" fill="#26a69a"/>
<rect x="778" y="457.2" width="6" height="59.5" fill="#26a69a"/>
<rect x="786" y="393" width="2" height="76.5" fill="#26a69a"/>
<rect x="784" y="396.2" width="6" height="61.3" fill="#26a69a"/>
<rect x="792" y="384.2" width="2" height="52.5" fill="#ef5350"/>
<rect x="790" y="396.2" width="6" height="3.3" fill="#ef5350"/>
<rect x="798" y="397.2" width="2" height="197.8" fill="#ef5350"/>
<rect x="796" y="398.8" width="6" height="127.9" fill="#ef5350"/>
<rect x="804" y="458.3" width="2" height="169.5" fill="#26a69a"/>
<rect x="802" y="474.2" width="6" height="52.5" fill="#26a69a"/>
<rect x="810" y="442.2" width="2" height="77.5" fill="#26a69a"/>
<rect x="808" y="467.5" width="6" height="7" fill="#26a69a"/>
<rect x="816" y="438" width="2" height="57" fill="#ef5350"/>
<rect x="814" y="467.5" width="6" height="18.3" fill="#ef5350"/>
<rect x="822" y="439.2" width="2" height="63.3" fill="#26a69a"/>
<rect x="820" y="458.3" width="6" height="27.5" fill="#26a69a"/>
<rect x="828" y="422" width="2" height="57.5" fill="#ef5350"/>
<rect x="826" y="458.3" width="6" height="7.2" fill="#ef5350"/>
<rect x="834" y="441.2" width="2" height="33.3" fill="#26a69a"/>
<rect x="832" y="450.3" width="6" height="15.2" fill="#26a69a"/>
<rect x="840" y="404.2" width="2" height="82.5" fill="#26a69a"/>
<rect x="838" y="437.2" width="6" height="13.1" fill="#26a69a"/>
<rect x="846" y="358" width="2" height="93.7" fill="#26a69a"/>
<rect x="844" y="410" width="6" height="27.5" fill="#26a69a"/>
<rect x="852" y="402.2" width="2" height="111.5" fill="#ef5350"/>
<rect x="850" y="410" width="6" height="84.7" fill="#ef5350"/>
<rect x="858" y="455" width="2" height="87.8" fill="#ef5350"/>
<rect x="856" y="494.7" width="6" height="22.8" fill="#ef5350"/>
<rect x="864" y="480" width="2" height="127.8" fill="#26a69a"/>
<rect x="862" y="504.2" width="6" height="13.3" fill="#26a69a"/>
<rect x="870" y="470" width="2" height="62.8" fill="#ef5350"/>
<rect x="868" y="504.2" width="6" height="14.1" fill="#ef5350"/>
<rect x="876" y="499.2" width="2" height="43.6" fill="#ef5350"/>
<rect x="874" y="518.3" width="6" height="11.4" fill="#ef5350"/>
<rect x="882" y="504.2" width="2" height="48.6" fill="#26a69a"/>
<rect x="880" y="510" width="6" height="19.7" fill="#26a69a"/>
<rect x="888" y="481.2" width="2" height="44.6" fill="#26a69a"/>
<rect x="886" y="490.3" width="6" height="20.5" fill="#26a69a"/>
<rect x="894" y="486.7" width="2" height="22.5" fill="#ef5350"/>
<rect x="892" y="490.3" width="6" height="8" fill="#ef5350"/>
<rect x="900" y="492" width="2" height="61.7" fill="#ef5350"/>
<rect x="898" y="498.3" width="6" height="46.4" fill="#ef5350"/>
<rect x="906" y="518.3" width="2" height="39.5" fill="#ef5350"/>
<rect x="904" y="544.7" width="6" height="2.8" fill="#ef5350"/>
<rect x="912" y="528.3" width="2" height="22.5" fill="#26a69a"/>
<rect x="910" y="535" width="6" height="12.5" fill="#26a69a"/>
<rect x="918" y="531.2" width="2" height="40.5" fill="#ef5350"/>
<rect x="916" y="535" width="6" height="30.5" fill="#ef5350"/>
<rect x="924" y="545" width="2" height="51.7" fill="#ef5350"/>
<rect x="922" y="565.5" width="6" height="11.2" fill="#ef5350"/>
<rect x="930" y="547.2" width="2" height="43.6" fill="#26a69a"/>
<rect x="928" y="568.3" width="6" height="8.4" fill="#26a69a"/>
<rect x="936" y="480" width="2" height="88.3" fill="#26a69a"/>
<rect x="934" y="487.5" width="6" height="80.8" fill="#26a69a"/>
<rect x="942" y="448.3" width="2" height="39.7" fill="#26a69a"/>
<rect x="940" y="464.2" width="6" height="23.8" fill="#26a69a"/>
<rect x="948" y="439.2" width="2" height="26.6" fill="#26a69a"/>
<rect x="946" y="447.2" width="6" height="17.8" fill="#26a69a"/>
<rect x="954" y="429.2" width="2" height="35.3" fill="#ef5350"/>
<rect x="952" y="447.2" width="6" height="11.1" fill="#ef5350"/>
<rect x="960" y="455.8" width="2" height="32.5" fill="#ef5350"/>
<rect x="958" y="458.3" width="6" height="7.2" fill="#ef5350"/>
<rect x="966" y="446.2" width="2" height="29.6" fill="#26a69a"/>
<rect x="964" y="458.3" width="6" height="7.5" fill="#26a69a"/>
<rect x="972" y="443.3" width="2" height="67.5" fill="#ef5350"/>
<rect x="970" y="458.3" width="6" height="49.5" fill="#ef5350"/>
<rect x="978" y="465" width="2" height="64.5" fill="#26a69a"/>
<rect x="976" y="474.2" width="6" height="33.6" fill="#26a69a"/>
<rect x="984" y="466.2" width="2" height="52.5" fill="#ef5350"/>
<rect x="982" y="474.2" width="6" height="33.6" fill="#ef5350"/>
<rect x="990" y="475" width="2" height="39.7" fill="#26a69a"/>
<rect x="988" y="484.2" width="6" height="23.6" fill="#26a69a"/>
<rect x="996" y="399.2" width="2" height="89.1" fill="#26a69a"/>
<rect x="994" y="407.2" width="6" height="77.3" fill="#26a69a"/>
<rect x="1002" y="405" width="2" height="36.7" fill="#ef5350"/>
<rect x="1000" y="407.2" width="6" height="24.1" fill="#ef5350"/>
<rect x="1008" y="412" width="2" height="75.8" fill="#26a69a"/>
<rect x="1006" y="425.3" width="6" height="6" fill="#26a69a"/>
<rect x="1014" y="367.2" width="2" height="60.3" fill="#26a69a"/>
<rect x="1012" y="378.3" width="6" height="47.5" fill="#26a69a"/>
<rect x="1020" y="204.2" width="2" height="179.5" fill="#26a69a"/>
<rect x="1018" y="223.3" width="6" height="155.4" fill="#26a69a"/>
<rect x="1026" y="139.2" width="2" height="155.5" fill="#26a69a"/>
<rect x="1024" y="190" width="6" height="33.7" fill="#26a69a"/>
<rect x="1032" y="154.2" width="2" height="57.1" fill="#26a69a"/>
<rect x="1030" y="174.2" width="6" height="16.1" fill="#26a69a"/>
<rect x="1038" y="172.2" width="2" height="77.5" fill="#ef5350"/>
<rect x="1036" y="174.2" width="6" height="8.3" fill="#ef5350"/>
<rect x="1044" y="174.2" width="2" height="151.6" fill="#ef5350"/>
<rect x="1042" y="182.5" width="6" height="101.3" fill="#ef5350"/>
<rect x="1050" y="149.2" width="2" height="149.6" fill="#26a69a"/>
<rect x="1048" y="235" width="6" height="48.8" fill="#26a69a"/>
<rect x="1056" y="189.2" width="2" height="75.5" fill="#26a69a"/>
<rect x="1054" y="213.3" width="6" height="22.2" fill="#26a69a"/>
<rect x="1061" y="176.2" width="2" height="52.6" fill="#26a69a"/>
<rect x="1059" y="211.3" width="6" height="2" fill="#26a69a"/>
<rect x="1067" y="209.2" width="2" height="47.5" fill="#ef5350"/>
<rect x="1065" y="210.8" width="6" height="19.7" fill="#ef5350"/>
<rect x="1073" y="203" width="2" height="47.8" fill="#ef5350"/>
<rect x="1071" y="230" width="6" height="7.5" fill="#ef5350"/>
<rect x="1079" y="222" width="2" height="21.8" fill="#26a69a"/>
<rect x="1077" y="234.2" width="6" height="3.3" fill="#26a69a"/>
<rect x="1085" y="222.2" width="2" height="43.3" fill="#ef5350"/>
<rect x="1083" y="234.2" width="6" height="28.6" fill="#ef5350"/>
<rect x="1091" y="250" width="2" height="131.7" fill="#26a69a"/>
<rect x="1089" y="250.8" width="6" height="12" fill="#26a69a"/>
<rect x="1097" y="200" width="2" height="66.7" fill="#26a69a"/>
<rect x="1095" y="250" width="6" height="1.7" fill="#26a69a"/>
<rect x="1103" y="225" width="2" height="54.7" fill="#26a69a"/>
<rect x="1101" y="247.5" width="6" height="4.2" fill="#26a69a"/>
<rect x="1109" y="219.2" width="2" height="34.1" fill="#26a69a"/>
<rect x="1107" y="228.3" width="6" height="19.5" fill="#26a69a"/>
<rect x="1115" y="226.2" width="2" height="41.3" fill="#ef5350"/>
<rect x="1113" y="228" width="6" height="30.3" fill="#ef5350"/>
<rect x="1121" y="246.2" width="2" height="78.5" fill="#ef5350"/>
<rect x="1119" y="258.3" width="6" height="51.2" fill="#ef5350"/>
<rect x="1127" y="284.2" width="2" height="160.5" fill="#ef5350"/>
<rect x="1125" y="309.2" width="6" height="97.5" fill="#ef5350"/>
<rect x="1133" y="341.3" width="2" height="328.4" fill="#26a69a"/>
<rect x="1131" y="367.2" width="6" height="39.5" fill="#26a69a"/>
<rect x="1139" y="339.2" width="2" height="118.3" fill="#ef5350"/>
<rect x="1137" y="367.2" width="6" height="56.1" fill="#ef5350"/>
<rect x="1145" y="410.3" width="2" height="74.4" fill="#ef5350"/>
<rect x="1143" y="423.3" width="6" height="48.4" fill="#ef5350"/>
<rect x="1151" y="442" width="2" height="62.5" fill="#ef5350"/>
<rect x="1149" y="471.2" width="6" height="18.3" fill="#ef5350"/>
<rect x="1157" y="419.2" width="2" height="89.5" fill="#26a69a"/>
<rect x="1155" y="466.2" width="6" height="23.3" fill="#26a69a"/>
<rect x="1163" y="453.3" width="2" height="27.2" fill="#26a69a"/>
<rect x="1161" y="459.2" width="6" height="7.5" fill="#26a69a"/>
<rect x="1169" y="430" width="2" height="63.3" fill="#ef5350"/>
<rect x="1167" y="459.2" width="6" height="8.6" fill="#ef5350"/>
<rect x="1175" y="441.2" width="2" height="48.3" fill="#26a69a"/>
<rect x="1173" y="457.2" width="6" height="10.6" fill="#26a69a"/>
<rect x="1181" y="423" width="2" height="50.3" fill="#ef5350"/>
<rect x="1179" y="457.2" width="6" height="4.5" fill="#ef5350"/>
<rect x="1187" y="434.5" width="2" height="52.2" fill="#26a69a"/>
<rect x="1185" y="441.2" width="6" height="20.5" fill="#26a69a"/>
<rect x="1193" y="398.3" width="2" height="61.2" fill="#26a69a"/>
<rect x="1191" y="412.8" width="6" height="28.9" fill="#26a69a"/>
<rect x="1199" y="323" width="2" height="99.5" fill="#26a69a"/>
<rect x="1197" y="355.3" width="6" height="58" fill="#26a69a"/>
<rect x="1205" y="324.2" width="2" height="38.3" fill="#26a69a"/>
<rect x="1203" y="347" width="6" height="8.3" fill="#26a69a"/>
<rect x="1211" y="333.3" width="2" height="37.2" fill="#ef5350"/>
<rect x="1209" y="347" width="6" height="11.3" fill="#ef5350"/>
<rect x="1217" y="346.3" width="2" height="50.4" fill="#ef5350"/>
<rect x="1215" y="358.3" width="6" height="22.5" fill="#ef5350"/>
<rect x="1223" y="377.5" width="2" height="63.8" fill="#ef5350"/>
<rect x="1221" y="380" width="6" height="32.8" fill="#ef5350"/>
<rect x="1229" y="352" width="2" height="75.5" fill="#26a69a"/>
<rect x="1227" y="355.3" width="6" height="57.5" fill="#26a69a"/>
<rect x="1235" y="351.2" width="2" height="26.3" fill="#ef5350"/>
<rect x="1233" y="355.3" width="6" height="16" fill="#ef5350"/>
<rect x="1241" y="362.5" width="2" height="67" fill="#ef5350"/>
<rect x="1239" y="371.3" width="6" height="38.4" fill="#ef5350"/>
<rect x="1247" y="396.3" width="2" height="19.2" fill="#26a69a"/>
<rect x="1245" y="407.5" width="6" height="1.5" fill="#26a69a"/>
<rect x="1253" y="399.2" width="2" height="26.3" fill="#26a69a"/>
<rect x="1251" y="405.8" width="6" height="2" fill="#26a69a"/>
<rect x="1259" y="397.2" width="2" height="121.5" fill="#ef5350"/>
<rect x="1257" y="405.8" width="6" height="100" fill="#ef5350"/>
<rect x="1265" y="476.3" width="2" height="97.2" fill="#26a69a"/>
<rect x="1263" y="490" width="6" height="15.8" fill="#26a69a"/>
<rect x="1271" y="487.5" width="2" height="58.3" fill="#ef5350"/>
<rect x="1269" y="490" width="6" height="41.7" fill="#ef5350"/>
<rect x="1277" y="511.3" width="2" height="36.2" fill="#26a69a"/>
<rect x="1275" y="530" width="6" height="1.7" fill="#26a69a"/>
<rect x="1283" y="529.2" width="2" height="81.6" fill="#ef5350"/>
<rect x="1281" y="530.8" width="6" height="17.5" fill="#ef5350"/>
<rect x="1289" y="524.2" width="2" height="31.3" fill="#26a69a"/>
<rect x="1287" y="533.3" width="6" height="15" fill="#26a69a"/>
<rect x="1295" y="270" width="2" height="268.3" fill="#26a69a"/>
<rect x="1293" y="289.2" width="6" height="244.5" fill="#26a69a"/>
<rect x="1301" y="280" width="2" height="217.5" fill="#ef5350"/>
<rect x="1299" y="289.2" width="6" height="180.3" fill="#ef5350"/>
<rect x="1307" y="420.5" width="2" height="104.8" fill="#26a69a"/>
<rect x="1305" y="447.5" width="6" height="22" fill="#26a69a"/>
<rect x="1313" y="419.5" width="2" height="41.7" fill="#26a69a"/>
<rect x="1311" y="432.2" width="6" height="15.3" fill="#26a69a"/>
<rect x="1319" y="385.3" width="2" height="55.9" fill="#26a69a"/>
<rect x="1317" y="400.3" width="6" height="32.2" fill="#26a69a"/>
<rect x="1325" y="393.3" width="2" height="89.2" fill="#ef5350"/>
<rect x="1323" y="400.3" width="6" height="70.5" fill="#ef5350"/>
<rect x="1331" y="461.3" width="2" height="35.4" fill="#ef5350"/>
<rect x="1329" y="470.5" width="6" height="19" fill="#ef5350"/>
<rect x="1337" y="481.3" width="2" height="86.3" fill="#ef5350"/>
<rect x="1335" y="489.2" width="6" height="61.6" fill="#ef5350"/>
<rect x="1343" y="511.9" width="2" height="85.8" fill="#ef5350"/>
<rect x="1341" y="550.4" width="6" height="37.9" fill="#ef5350"/>
<rect x="1349" y="526.2" width="2" height="101.3" fill="#26a69a"/>
<rect x="1347" y="539.5" width="6" height="48.8" fill="#26a69a"/>
<rect x="1355" y="505" width="2" height="46.7" fill="#26a69a"/>
<rect x="1353" y="517" width="6" height="23.5" fill="#26a69a"/>
<rect x="1361" y="482" width="2" height="43.5" fill="#26a69a"/>
<rect x="1359" y="512.5" width="6" height="5.3" fill="#26a69a"/>
<rect x="1367" y="468.3" width="2" height="49.2" fill="#26a69a"/>
<rect x="1365" y="479.2" width="6" height="34.1" fill="#26a69a"/>
<rect x="1373" y="440" width="2" height="40" fill="#26a69a"/>
<rect x="1371" y="468.3" width="6" height="11.2" fill="#26a69a"/>
<rect x="1379" y="461.2" width="2" height="46.6" fill="#ef5350"/>
<rect x="1377" y="468.3" width="6" height="31.2" fill="#ef5350"/>
<rect x="1385" y="472.2" width="2" height="27.8" fill="#26a69a"/>
<rect x="1383" y="485" width="6" height="14.5" fill="#26a69a"/>
<rect x="1391" y="484.2" width="2" height="38.6" fill="#ef5350"/>
<rect x="1389" y="485" width="6" height="17.8" fill="#ef5350"/>
<rect x="1396" y="403" width="2" height="106.2" fill="#26a69a"/>
<rect x="1394" y="417" width="6" height="85.8" fill="#26a69a"/>
<rect x="1402" y="412.2" width="2" height="55.6" fill="#ef5350"/>
<rect x="1400" y="417" width="6" height="37.5" fill="#ef5350"/>
<rect x="1408" y="443" width="2" height="35.7" fill="#ef5350"/>
<rect x="1406" y="453.3" width="6" height="18.4" fill="#ef5350"/>
<rect x="1414" y="459.2" width="2" height="18.6" fill="#ef5350"/>
<rect x="1412" y="471.3" width="6" height="4" fill="#ef5350"/>
<rect x="1420" y="451.7" width="2" height="24.5" fill="#26a69a"/>
<rect x="1418" y="452" width="6" height="23.3" fill="#26a69a"/>
<rect x="1426" y="431.2" width="2" height="29.6" fill="#26a69a"/>
<rect x="1424" y="448.8" width="6" height="4" fill="#26a69a"/>
<rect x="1432" y="438.8" width="2" height="24" fill="#ef5350"/>
<rect x="1430" y="448.3" width="6" height="5" fill="#ef5350"/>
<rect x="1438" y="438.8" width="2" height="49.5" fill="#ef5350"/>
<rect x="1436" y="448.8" width="6" height="32.9" fill="#ef5350"/>
<rect x="1444" y="468" width="2" height="28.7" fill="#ef5350"/>
<rect x="1442" y="481.2" width="6" height="3" fill="#ef5350"/>
<rect x="1450" y="482.8" width="2" height="62.2" fill="#ef5350"/>
<rect x="1448" y="483.7" width="6" height="44.6" fill="#ef5350"/>
<rect x="1456" y="521.2" width="2" height="53.5" fill="#ef5350"/>
<rect x="1454" y="528" width="6" height="23.7" fill="#ef5350"/>
<rect x="1462" y="525" width="2" height="35" fill="#26a69a"/>
<rect x="1460" y="550" width="6" height="1.7" fill="#26a69a"/>
<rect x="1468" y="548.8" width="2" height="38.2" fill="#ef5350"/>
<rect x="1466" y="550.3" width="6" height="16.4" fill="#ef5350"/>
<rect x="1474" y="530" width="2" height="43.8" fill="#26a69a"/>
<rect x="1472" y="550.3" width="6" height="16.4" fill="#26a69a"/>
<rect x="1480" y="519.2" width="2" height="80.8" fill="#ef5350"/>
<rect x="1478" y="550" width="6" height="37.8" fill="#ef5350"/>
<rect x="1486" y="569.2" width="2" height="38.6" fill="#26a69a"/>
<rect x="1484" y="574.2" width="6" height="13.6" fill="#26a69a"/>
<rect x="1492" y="542" width="2" height="47.7" fill="#26a69a"/>
<rect x="1490" y="553.3" width="6" height="21.2" fill="#26a69a"/>
<rect x="1498" y="537.8" width="2" height="20" fill="#26a69a"/>
<rect x="1496" y="548.3" width="6" height="5.4" fill="#26a69a"/>
<rect x="1504" y="543.3" width="2" height="96.4" fill="#ef5350"/>
<rect x="1502" y="548.3" width="6" height="73.4" fill="#ef5350"/>
<rect x="1510" y="592" width="2" height="128.8" fill="#ef5350"/>
<rect x="1508" y="621.7" width="6" height="6.6" fill="#ef5350"/>
<rect x="1516" y="603.3" width="2" height="64.2" fill="#ef5350"/>
<rect x="1514" y="628.3" width="6" height="34.2" fill="#ef5350"/>
<rect x="1522" y="566.2" width="2" height="119.6" fill="#26a69a"/>
<rect x="1520" y="578" width="6" height="84.5" fill="#26a69a"/>
<rect x="1528" y="576.7" width="2" height="43.8" fill="#ef5350"/>
<rect x="1526" y="578" width="6" height="28.7" fill="#ef5350"/>
<rect x="1534" y="574.2" width="2" height="37.3" fill="#26a69a"/>
<rect x="1532" y="588.3" width="6" height="18.4" fill="#26a69a"/>
<rect x="1540" y="535" width="2" height="58.8" fill="#26a69a"/>
<rect x="1538" y="543.3" width="6" height="45" fill="#26a69a"/>
<rect x="1546" y="515.3" width="2" height="53.5" fill="#ef5350"/>
<rect x="1544" y="543.3" width="6" height="13.7" fill="#ef5350"/>
<rect x="1552" y="535.8" width="2" height="25" fill="#26a69a"/>
<rect x="1550" y="554.2" width="6" height="2.5" fill="#26a69a"/>
<rect x="1558" y="535" width="2" height="33.7" fill="#ef5350"/>
<rect x="1556" y="554.2" width="6" height="14.5" fill="#ef5350"/>
<rect x="1564" y="552.8" width="2" height="30.9" fill="#ef5350"/>
<rect x="1562" y="567.5" width="6" height="1.5" fill="#ef5350"/>
<rect x="1570" y="558" width="2" height="20" fill="#ef5350"/>
<rect x="1568" y="568.3" width="6" height="5.5" fill="#ef5350"/>
<rect x="1576" y="566.2" width="2" height="14.6" fill="#ef5350"/>
<rect x="1574" y="571.7" width="6" height="2.1" fill="#ef5350"/>
<rect x="1582" y="563" width="2" height="12.8" fill="#26a69a"/>
<rect x="1580" y="567" width="6" height="8.8" fill="#26a69a"/>
<rect x="1588" y="563.8" width="2" height="19" fill="#ef5350"/>
<rect x="1586" y="567" width="6" height="3.8" fill="#ef5350"/>
<rect x="1594" y="548.8" width="2" height="27" fill="#26a69a"/>
<rect x="1592" y="567" width="6" height="3.8" fill="#26a69a"/>
<rect x="1600" y="514.2" width="2" height="59.6" fill="#26a69a"/>
<rect x="1598" y="525.8" width="6" height="42" fill="#26a69a"/>
<rect x="1606" y="497.2" width="2" height="35.6" fill="#26a69a"/>
<rect x="1604" y="522.5" width="6" height="2.5" fill="#26a69a"/>
<rect x="1612" y="518.8" width="2" height="38.2" fill="#ef5350"/>
<rect x="1610" y="524.2" width="6" height="6.6" fill="#ef5350"/>
<rect x="1618" y="524.2" width="2" height="17.5" fill="#ef5350"/>
<rect x="1616" y="528.7" width="6" height="8" fill="#ef5350"/>
<rect x="1624" y="513.8" width="2" height="22.9" fill="#26a69a"/>
<rect x="1622" y="532.8" width="6" height="3.9" fill="#26a69a"/>
<rect x="1630" y="499.2" width="2" height="44.6" fill="#26a69a"/>
<rect x="1628" y="512.8" width="6" height="20.9" fill="#26a69a"/>
<rect x="1636" y="477" width="2" height="46.7" fill="#26a69a"/>
<rect x="1634" y="498.8" width="6" height="14.5" fill="#26a69a"/>
<rect x="1642" y="493" width="2" height="29.8" fill="#ef5350"/>
<rect x="1640" y="498.8" width="6" height="20.4" fill="#ef5350"/>
<rect x="1648" y="511.7" width="2" height="43.3" fill="#ef5350"/>
<rect x="1646" y="517.8" width="6" height="15.5" fill="#ef5350"/>
<rect x="1654" y="512.2" width="2" height="21.1" fill="#26a69a"/>
<rect x="1652" y="525.3" width="6" height="8" fill="#26a69a"/>
<rect x="1660" y="517" width="2" height="15.5" fill="#ef5350"/>
<rect x="1658" y="525.3" width="6" height="3.5" fill="#ef5350"/>
<rect x="1666" y="524.5" width="2" height="13.5" fill="#ef5350"/>
<rect x="1664" y="526.7" width="6" height="7.5" fill="#ef5350"/>
<rect x="1672" y="524.2" width="2" height="22" fill="#ef5350"/>
<rect x="1670" y="533.7" width="6" height="11.3" fill="#ef5350"/>
<rect x="1678" y="530" width="2" height="30" fill="#ef5350"/>
<rect x="1676" y="544.2" width="6" height="9.6" fill="#ef5350"/>
<rect x="1684" y="543" width="2" height="26.7" fill="#26a69a"/>
<rect x="1682" y="545" width="6" height="8.8" fill="#26a69a"/>
<rect x="1690" y="539.2" width="2" height="21.6" fill="#ef5350"/>
<rect x="1688" y="545" width="6" height="9.5" fill="#ef5350"/>
<rect x="1696" y="486.7" width="2" height="70" fill="#26a69a"/>
<rect x="1694" y="487.8" width="6" height="67.2" fill="#26a69a"/>
<rect x="1702" y="455" width="2" height="47.8" fill="#26a69a"/>
<rect x="1700" y="483.3" width="6" height="5.9" fill="#26a69a"/>
<rect x="1708" y="440" width="2" height="45.8" fill="#26a69a"/>
<rect x="1706" y="441.7" width="6" height="42.5" fill="#26a69a"/>
<rect x="1714" y="437" width="2" height="50.8" fill="#ef5350"/>
<rect x="1712" y="441.7" width="6" height="35" fill="#ef5350"/>
<rect x="1720" y="382.2" width="2" height="98.6" fill="#26a69a"/>
<rect x="1718" y="418.3" width="6" height="58.4" fill="#26a69a"/>
<rect x="1726" y="398" width="2" height="59.5" fill="#26a69a"/>
<rect x="1724" y="405" width="6" height="13.3" fill="#26a69a"/>
<rect x="1732" y="383" width="2" height="42.8" fill="#ef5350"/>
<rect x="1730" y="405" width="6" height="11.7" fill="#ef5350"/>
<rect x="1737" y="409.2" width="2" height="70.5" fill="#ef5350"/>
<rect x="1735" y="416.3" width="6" height="54.5" fill="#ef5350"/>
<rect x="1743" y="452" width="2" height="29.7" fill="#ef5350"/>
<rect x="1741" y="469.2" width="6" height="1.6" fill="#ef5350"/>
<rect x="1749" y="468.3" width="2" height="29.5" fill="#ef5350"/>
<rect x="1747" y="470.8" width="6" height="9.7" fill="#ef5350"/>
<rect x="1755" y="449.2" width="2" height="37.5" fill="#26a69a"/>
<rect x="1753" y="455.8" width="6" height="24.7" fill="#26a69a"/>
<rect x="1761" y="452" width="2" height="48.8" fill="#ef5350"/>
<rect x="1759" y="455.8" width="6" height="15.9" fill="#ef5350"/>
<rect x="1767" y="462.2" width="2" height="30.6" fill="#ef5350"/>
<rect x="1765" y="471.2" width="6" height="8.5" fill="#ef5350"/>
<rect x="1773" y="455.8" width="2" height="30.9" fill="#26a69a"/>
<rect x="1771" y="466.2" width="6" height="13.5" fill="#26a69a"/>
<rect x="1779" y="447" width="2" height="21.7" fill="#26a69a"/>
<rect x="1777" y="455" width="6" height="11.7" fill="#26a69a"/>
<rect x="1785" y="438.8" width="2" height="64" fill="#ef5350"/>
<rect x="1783" y="455" width="6" height="44.2" fill="#ef5350"/>
<rect x="1791" y="478" width="2" height="22.8" fill="#26a69a"/>
<rect x="1789" y="487.8" width="6" height="11.4" fill="#26a69a"/>
<rect x="1797" y="482.8" width="2" height="25.9" fill="#26a69a"/>
<rect x="1795" y="483.8" width="6" height="4.5" fill="#26a69a"/>
<rect x="1803" y="478" width="2" height="20.8" fill="#ef5350"/>
<rect x="1801" y="483.8" width="6" height="11.2" fill="#ef5350"/>
<rect x="1809" y="480" width="2" height="30" fill="#26a69a"/>
<rect x="1807" y="492.2" width="6" height="3.1" fill="#26a69a"/>
<rect x="1815" y="490" width="2" height="30.8" fill="#ef5350"/>
<rect x="1813" y="492.2" width="6" height="14" fill="#ef5350"/>
<rect x="1821" y="492.8" width="2" height="24.7" fill="#ef5350"/>
<rect x="1819" y="505.8" width="6" height="10.9" fill="#ef5350"/>
<rect x="1827" y="513.7" width="2" height="39.3" fill="#ef5350"/>
<rect x="1825" y="515.8" width="6" height="35.4" fill="#ef5350"/>
<rect x="1833" y="527.8" width="2" height="41.4" fill="#26a69a"/>
<rect x="1831" y="539.2" width="6" height="12" fill="#26a69a"/>
<rect x="1839" y="533.8" width="2" height="20.9" fill="#26a69a"/>
<rect x="1837" y="535" width="6" height="2.2" fill="#26a69a"/>
<rect x="1845" y="528.8" width="2" height="22" fill="#26a69a"/>
<rect x="1843" y="530" width="6" height="8.3" fill="#26a69a"/>
<rect x="1851" y="503" width="2" height="31.7" fill="#26a69a"/>
<rect x="1849" y="516.2" width="6" height="15.1" fill="#26a69a"/>
<rect x="1857" y="509.2" width="2" height="22.1" fill="#ef5350"/>
<rect x="1855" y="516.2" width="6" height="14.6" fill="#ef5350"/>
<rect x="1863" y="521.2" width="2" height="54.6" fill="#ef5350"/>
<rect x="1861" y="530" width="6" height="38.3" fill="#ef5350"/>
<rect x="1869" y="533" width="2" height="35.7" fill="#26a69a"/>
<rect x="1867" y="543.3" width="6" height="24.2" fill="#26a69a"/>
<rect x="1875" y="533.3" width="2" height="13.7" fill="#26a69a"/>
<rect x="1873" y="538.3" width="6" height="5.9" fill="#26a69a"/>
<rect x="1881" y="498" width="2" height="42.8" fill="#26a69a"/>
<rect x="1879" y="509.2" width="6" height="30" fill="#26a69a"/>
<rect x="1887" y="487.2" width="2" height="35.6" fill="#26a69a"/>
<rect x="1885" y="490.3" width="6" height="18.9" fill="#26a69a"/>
<rect x="1893" y="488.7" width="2" height="21" fill="#ef5350"/>
<rect x="1891" y="490.3" width="6" height="5.5" fill="#ef5350"/>
<rect x="1899" y="485" width="2" height="20" fill="#26a69a"/>
<rect x="1897" y="487.8" width="6" height="8" fill="#26a69a"/>
<line x1="21" y1="488" x2="2144" y2="488" stroke="#26a69a" stroke-width="2" stroke-dasharray="2 4"/>
<line x1="990" y1="125" x2="2097" y2="505" stroke="#000" stroke-width="2"/>
<circle cx="1900" cy="796" r="19.5" fill="#fff" stroke="#9c27b0" stroke-width="3"/>
<polygon fill="#9c27b0" points="1905.4,785 1906.9,786.5 1900.5,794.9 1909,795.2 1895,806.9 1893.4,805.6 1899.2,797.2 1891.1,796.9"/>
<rect x="1814.7" y="199.7" width="308.7" height="50.1" rx="8" fill="#fff" filter="url(#sh)"/>
<text x="1833.22" y="234.1" font-size="25" fill="#131313" stroke="#131313" stroke-width="0.3" letter-spacing="0.860">0.6710 (28.81%) 6,710</text>
<rect x="1739" y="588.2" width="352.3" height="49.7" rx="8" fill="#fff" filter="url(#sh)"/>
<text x="1755.87" y="622.2" font-size="25" fill="#131313" stroke="#131313" stroke-width="0.3" letter-spacing="0.828">−0.2467 (−10.59%) −2,467</text>
</g>
<text x="36.57" y="93.8" font-size="23.8" fill="#131722" stroke="#131722" stroke-width="0.3" letter-spacing="-0.042">XRP / TetherUS · 1D · BINANCE</text>
<text x="397.37" y="93.8" font-size="23.8" fill="#131722" stroke="#131722" stroke-width="0.3">O</text>
<text x="416.3" y="93.8" font-size="23.8" fill="#22ab94" stroke="#22ab94" stroke-width="0.3" letter-spacing="1.020">2.3074</text>
<text x="506.55" y="93.8" font-size="23.8" fill="#131722" stroke="#131722" stroke-width="0.3">H</text>
<text x="525.3" y="93.8" font-size="23.8" fill="#22ab94" stroke="#22ab94" stroke-width="0.3" letter-spacing="1.406">2.3379</text>
<text x="617.55" y="93.8" font-size="23.8" fill="#131722" stroke="#131722" stroke-width="0.3">L</text>
<text x="631.3" y="93.8" font-size="23.8" fill="#22ab94" stroke="#22ab94" stroke-width="0.3" letter-spacing="1.390">2.2783</text>
<text x="723.79" y="93.8" font-size="23.8" fill="#131722" stroke="#131722" stroke-width="0.3">C</text>
<text x="741.8" y="93.8" font-size="23.8" fill="#22ab94" stroke="#22ab94" stroke-width="0.3" letter-spacing="1.590">2.3303</text>
<text x="834.84" y="93.8" font-size="23.8" fill="#22ab94" stroke="#22ab94" stroke-width="0.3" letter-spacing="1.273">+0.0229 (+0.99%)</text>
<text x="37.4" y="127.7" font-size="23.8" fill="#131722" stroke="#131722" stroke-width="0.3" letter-spacing="-0.266">Vol · XRP</text>
<text x="151.28" y="127.7" font-size="23.8" fill="#22ab94" stroke="#22ab94" stroke-width="0.3" letter-spacing="0.421">77.97 M</text>
<text x="36.05" y="161.8" font-size="23.8" fill="#131722" stroke="#131722" stroke-width="0.3" letter-spacing="0.689">EMA (50, close, 100, close, 200, close)</text>
<text x="487.8" y="161.8" font-size="23.8" fill="#ff2626" stroke="#ff2626" stroke-width="0.3" letter-spacing="1.620">2.2667</text>
<text x="581.3" y="161.8" font-size="23.8" fill="#2962ff" stroke="#2962ff" stroke-width="0.3" letter-spacing="1.706">2.2589</text>
<text x="675.3" y="161.8" font-size="23.8" fill="#9c27b0" stroke="#9c27b0" stroke-width="0.3" letter-spacing="1.790">2.0906</text>
<text x="36.05" y="195.7" font-size="23.8" fill="#131722" stroke="#131722" stroke-width="0.3" letter-spacing="0.550">Previous Day High and Low</text>
<g clip-path="url(#cMfi)">
<rect x="21" y="959" width="2123" height="118" fill="#7e57c2" fill-opacity="0.1"/>
<line x1="20" y1="959" x2="2143" y2="959" stroke="#6c7080" stroke-width="2" stroke-dasharray="10 12"/>
<line x1="20" y1="1077" x2="2143" y2="1077" stroke="#6c7080" stroke-width="2" stroke-dasharray="10 12"/>
<line x1="20" y1="1018" x2="2143" y2="1018" stroke="#a4a5ae" stroke-width="2" stroke-dasharray="10 12"/>
<polyline fill="none" stroke="#7e57c2" stroke-width="2" stroke-linejoin="round" stroke-linecap="round" points="20,1017.5 28,1013 40,1033.75 46.25,1059.25 58,1033.75 64,1014.25 70,1017 76,1018 82,1024 88,1015.25 94,1018 100,1030.5 106,1028 112,1018 118,1012 124,1005.75 130,976.25 136,977 142,1000 148,1012.5 154,991.25 160,977.5 166,974.5 172,991.25 178,1008 184,1010 190,1008 196,1021.75 202,1022.25 208,1028.75 214,1035.75 220,1040 226,1040 232,1052.5 238,1073.75 244,1083.25 250,1071.25 256,1057.5 260,1051.25 266,1047.5 272,1025 278,1003.75 284,998.25 290,998.75 296,997 302,996.75 308,994.5 314,980 320,973 326,971.25 332,978.75 338,990.5 344,989.25 350,990 356,1010 362,1011.25 368,1003.75 374,987 380,1008.75 386,1029.25 392,1038.75 398,1051.75 404,1039.5 410,1040.75 416,1036.75 422,1028 428,1035.5 434,1034.5 440,1024.25 446,1025.5 452,1036.25 458,1052.5 464,1037 470,1027.5 476,1001.25 482,969.25 488,988 494,995 500,1003 506,1001.25 512,1005 518,1006.75 524,1008.75 530,1026.75 536,1025.5 542,1020 548,1023 554,1005 560,1020 566,1038.75 572,1020 578,1019.25 584,1020.75 590,1024.5 590,1024.5 596,1008.75 602,985 608,981.75 614,978.75 620,976.25 626,966.25 632,959.25 638,946.25 644,937 650,930 656,928 662,925 668,948.75 674,946.75 680,956.25 686,965.75 692,962 698,954.5 704,950.5 710,963.75 716,962 722,973.25 728,973.25 734,974.5 740,973 746,974.25 752,956.25 758,949.25 764,973.75 770,983.75 776,995.75 782,997.5 788,998.5 794,990.75 800,1002.5 806,1009 812,1007 818,1005.5 824,1007 830,1010 836,1015.5 842,1033.75 848,1007.5 854,1003 860,999.5 866,1017.5 872,1019.25 878,1027 884,1013 888,993 894,998 900,1008.75 906,1019 912,1023 918,1029.5 924,1045 930,1060.5 936,1041.25 942,1018.75 948,984.25 954,999.5 960,995 966,999.25 972,1017 978,1033.75 984,1035 990,1021.75 996,1013 1002,1005 1008,1011.25 1014,1005.75 1020,990 1026,977 1032,973.5 1038,982.5 1044,993 1050,985 1056,976.75 1062,968.75 1068,970.5 1074,970 1080,974.25 1086,978 1092,982.5 1098,982.5 1104,997 1110,1011.25 1116,1025.5 1122,1018.75 1128,1018 1134,1061.25 1140,1058 1146,1068.25 1152,1067.75 1158,1065 1160,1063 1164,1060 1170,1055 1176,1043.25 1182,1047.5 1188,1046.5 1194,1046.5 1200,1035.5 1206,1028 1212,1018.75 1218,981.25 1224,1000.5 1230,984.5 1236,969.25 1242,988.25 1248,995.5 1254,1004.5 1260,1021.25 1266,1046.25 1272,1048.75 1278,1060 1284,1083 1290,1086.75 1296,1051.75 1302,1059 1308,1062.75 1314,1061.75 1320,1058.25 1326,1059.75 1332,1060 1338,1061.25 1344,1061.25 1350,1046.25 1356,1035.5 1362,1027 1368,1016.75 1374,1016.25 1380,1039 1386,1018 1392,1006.25 1398,1001.5 1404,1016 1410,1006.25 1416,1004.5 1422,991.25 1428,973 1434,986.25 1440,1000.75 1446,1015 1452,1031.75 1458,1045.5 1464,1033.75 1470,1046.75 1476,1033 1482,1067.5 1488,1067.5 1494,1050.5 1500,1044.5 1506,1055 1512,1075 1518,1061.75 1522,1040 1528,1030.75 1534,1020.75 1540,1012.5 1546,1011 1552,1009 1558,1018 1564,1013.25 1570,1008.25 1576,1017.5 1582,1018.5 1588,1013 1594,975.5 1600,977 1606,984 1612,1003.25 1618,1004.5 1624,1007.5 1630,1008 1636,991.25 1642,990 1648,991.75 1654,981.75 1660,983 1666,987.5 1672,987 1678,1000 1684,1016.25 1690,1023.75 1696,1000.5 1702,993.75 1708,990 1714,1007.5 1720,993.75 1726,979.5 1732.5,965.5 1738.5,979.25 1744.5,982.5 1750.5,985.75 1756.5,980.5 1762.5,982.5 1768.5,984.5 1774.5,982.25 1780.5,983.75 1786.5,999.25 1792.5,1007 1798.5,1003.5 1804.5,1022.5 1810.5,1040.75 1816.5,1060 1822.5,1055.5 1828.5,1057 1834.5,1057 1840.5,1061.25 1846.5,1047 1852.5,1033 1858.5,1052.5 1864.5,1071.25 1870.5,1055 1876.5,1048 1882.5,1033.75 1888.5,1029.25 1894.5,1014.5 1900.5,1002.5"/>
</g>
<text x="35.85" y="944.8" font-size="23.8" fill="#131722" stroke="#131722" stroke-width="0.3" letter-spacing="0.231">MFI (14)</text>
<text x="142.25" y="944.8" font-size="23.8" fill="#7e57c2" stroke="#7e57c2" stroke-width="0.3" letter-spacing="0.781">57.69</text>
<g clip-path="url(#cMacd)">
<rect x="20" y="1253" width="3" height="2.38" fill="#ff5252"/>
<rect x="26" y="1253" width="3" height="2.92" fill="#ff5252"/>
<rect x="32" y="1253" width="3" height="3.97" fill="#ff5252"/>
<rect x="38" y="1253" width="3" height="5.08" fill="#ff5252"/>
<rect x="44" y="1253" width="3" height="5.62" fill="#ff5252"/>
<rect x="50" y="1253" width="3" height="6.1" fill="#ff5252"/>
<rect x="56" y="1253" width="3" height="4.26" fill="#ffcdd2"/>
<rect x="62" y="1253" width="3" height="2.77" fill="#ffcdd2"/>
<rect x="68" y="1253" width="3" height="2.19" fill="#ffcdd2"/>
<rect x="74" y="1253" width="3" height="2.18" fill="#ffcdd2"/>
<rect x="80" y="1253" width="3" height="2.2" fill="#ff5252"/>
<rect x="86" y="1253" width="3" height="2.22" fill="#ff5252"/>
<rect x="92" y="1253" width="3" height="2.24" fill="#ff5252"/>
<rect x="98" y="1253" width="3" height="2.08" fill="#ffcdd2"/>
<rect x="104" y="1253" width="3" height="1.85" fill="#ffcdd2"/>
<rect x="110" y="1253" width="3" height="1.61" fill="#ffcdd2"/>
<rect x="116" y="1253" width="3" height="1.6" fill="#ffcdd2"/>
<rect x="122" y="1253" width="3" height="1.6" fill="#ffcdd2"/>
<rect x="128" y="1253.4" width="3" height="1.6" fill="#26a69a"/>
<rect x="134" y="1253.4" width="3" height="1.6" fill="#26a69a"/>
<rect x="140" y="1253.26" width="3" height="1.74" fill="#26a69a"/>
<rect x="145" y="1252.92" width="3" height="2.08" fill="#26a69a"/>
<rect x="151" y="1252.71" width="3" height="2.29" fill="#26a69a"/>
<rect x="157" y="1252.64" width="3" height="2.36" fill="#26a69a"/>
<rect x="163" y="1252.56" width="3" height="2.44" fill="#26a69a"/>
<rect x="169" y="1253.31" width="3" height="1.69" fill="#b2dfdb"/>
<rect x="175" y="1253.4" width="3" height="1.6" fill="#b2dfdb"/>
<rect x="181" y="1253" width="3" height="1.6" fill="#ff5252"/>
<rect x="187" y="1253" width="3" height="1.6" fill="#ff5252"/>
<rect x="193" y="1253" width="3" height="1.72" fill="#ff5252"/>
<rect x="199" y="1253" width="3" height="1.85" fill="#ff5252"/>
<rect x="205" y="1253" width="3" height="1.99" fill="#ff5252"/>
<rect x="211" y="1253" width="3" height="1.95" fill="#ffcdd2"/>
<rect x="217" y="1253" width="3" height="1.89" fill="#ffcdd2"/>
<rect x="223" y="1253" width="3" height="1.83" fill="#ffcdd2"/>
<rect x="229" y="1253" width="3" height="1.77" fill="#ffcdd2"/>
<rect x="235" y="1253" width="3" height="1.98" fill="#ff5252"/>
<rect x="241" y="1253" width="3" height="2.3" fill="#ff5252"/>
<rect x="247" y="1253" width="3" height="2.7" fill="#ff5252"/>
<rect x="253" y="1253" width="3" height="2.55" fill="#ffcdd2"/>
<rect x="259" y="1253" width="3" height="2.24" fill="#ffcdd2"/>
<rect x="265" y="1253" width="3" height="1.93" fill="#ffcdd2"/>
<rect x="271" y="1253" width="3" height="1.6" fill="#ffcdd2"/>
<rect x="277" y="1253.4" width="3" height="1.6" fill="#26a69a"/>
<rect x="283" y="1253.29" width="3" height="1.71" fill="#26a69a"/>
<rect x="289" y="1252.98" width="3" height="2.02" fill="#26a69a"/>
<rect x="295" y="1252.78" width="3" height="2.22" fill="#26a69a"/>
<rect x="301" y="1252.7" width="3" height="2.3" fill="#26a69a"/>
<rect x="307" y="1252.78" width="3" height="2.22" fill="#b2dfdb"/>
<rect x="313" y="1252.85" width="3" height="2.15" fill="#b2dfdb"/>
<rect x="319" y="1252.92" width="3" height="2.08" fill="#b2dfdb"/>
<rect x="325" y="1252.9" width="3" height="2.1" fill="#26a69a"/>
<rect x="331" y="1252.88" width="3" height="2.12" fill="#26a69a"/>
<rect x="337" y="1253.17" width="3" height="1.83" fill="#b2dfdb"/>
<rect x="343" y="1253.4" width="3" height="1.6" fill="#b2dfdb"/>
<rect x="349" y="1253.4" width="3" height="1.6" fill="#b2dfdb"/>
<rect x="355" y="1253.4" width="3" height="1.6" fill="#b2dfdb"/>
<rect x="361" y="1253.19" width="3" height="1.81" fill="#26a69a"/>
<rect x="367" y="1252.65" width="3" height="2.35" fill="#26a69a"/>
<rect x="373" y="1252.19" width="3" height="2.81" fill="#26a69a"/>
<rect x="379" y="1252.51" width="3" height="2.49" fill="#b2dfdb"/>
<rect x="385" y="1252.92" width="3" height="2.08" fill="#b2dfdb"/>
<rect x="391" y="1253" width="3" height="1.6" fill="#ff5252"/>
<rect x="397" y="1253" width="3" height="2.37" fill="#ff5252"/>
<rect x="403" y="1253" width="3" height="2.79" fill="#ff5252"/>
<rect x="409" y="1253" width="3" height="2.84" fill="#ff5252"/>
<rect x="415" y="1253" width="3" height="2.81" fill="#ffcdd2"/>
<rect x="421" y="1253" width="3" height="2.6" fill="#ffcdd2"/>
<rect x="427" y="1253" width="3" height="2.6" fill="#ff5252"/>
<rect x="433" y="1253" width="3" height="2.6" fill="#ffcdd2"/>
<rect x="439" y="1253" width="3" height="2.59" fill="#ffcdd2"/>
<rect x="445" y="1253" width="3" height="2.07" fill="#ffcdd2"/>
<rect x="451" y="1253" width="3" height="1.81" fill="#ffcdd2"/>
<rect x="457" y="1253" width="3" height="1.6" fill="#ffcdd2"/>
<rect x="463" y="1253" width="3" height="1.6" fill="#ffcdd2"/>
<rect x="469" y="1253.4" width="3" height="1.6" fill="#26a69a"/>
<rect x="475" y="1253.36" width="3" height="1.64" fill="#26a69a"/>
<rect x="481" y="1253.14" width="3" height="1.86" fill="#26a69a"/>
<rect x="486" y="1253.07" width="3" height="1.93" fill="#26a69a"/>
<rect x="492" y="1253.01" width="3" height="1.99" fill="#26a69a"/>
<rect x="498" y="1252.95" width="3" height="2.05" fill="#26a69a"/>
<rect x="504" y="1252.89" width="3" height="2.11" fill="#26a69a"/>
<rect x="510" y="1253.32" width="3" height="1.68" fill="#b2dfdb"/>
<rect x="516" y="1253.4" width="3" height="1.6" fill="#b2dfdb"/>
<rect x="522" y="1253" width="3" height="1.6" fill="#ff5252"/>
<rect x="528" y="1253" width="3" height="1.62" fill="#ff5252"/>
<rect x="534" y="1253" width="3" height="1.72" fill="#ff5252"/>
<rect x="540" y="1253" width="3" height="1.66" fill="#ffcdd2"/>
<rect x="546" y="1253" width="3" height="1.6" fill="#ffcdd2"/>
<rect x="552" y="1253" width="3" height="1.6" fill="#ffcdd2"/>
<rect x="558" y="1253" width="3" height="1.6" fill="#ffcdd2"/>
<rect x="564" y="1253" width="3" height="1.6" fill="#ffcdd2"/>
<rect x="570" y="1253" width="3" height="1.6" fill="#ffcdd2"/>
<rect x="576" y="1253.4" width="3" height="1.6" fill="#26a69a"/>
<rect x="582" y="1253.4" width="3" height="1.6" fill="#26a69a"/>
<rect x="588" y="1253.31" width="3" height="1.69" fill="#26a69a"/>
<rect x="594" y="1252.92" width="3" height="2.08" fill="#26a69a"/>
<rect x="600" y="1252.61" width="3" height="2.39" fill="#26a69a"/>
<rect x="606" y="1252.41" width="3" height="2.59" fill="#26a69a"/>
<rect x="612" y="1252.21" width="3" height="2.79" fill="#26a69a"/>
<rect x="618" y="1251.78" width="3" height="3.22" fill="#26a69a"/>
<rect x="624" y="1251.56" width="3" height="3.44" fill="#26a69a"/>
<rect x="630" y="1250.82" width="3" height="4.18" fill="#26a69a"/>
<rect x="636" y="1248.89" width="3" height="6.11" fill="#26a69a"/>
<rect x="642" y="1247.45" width="3" height="7.55" fill="#26a69a"/>
<rect x="648" y="1245.83" width="3" height="9.17" fill="#26a69a"/>
<rect x="654" y="1243.59" width="3" height="11.41" fill="#26a69a"/>
<rect x="660" y="1239.4" width="3" height="15.6" fill="#26a69a"/>
<rect x="666" y="1237.26" width="3" height="17.74" fill="#26a69a"/>
<rect x="672" y="1236.47" width="3" height="18.53" fill="#26a69a"/>
<rect x="678" y="1236.88" width="3" height="18.12" fill="#b2dfdb"/>
<rect x="684" y="1237.95" width="3" height="17.05" fill="#b2dfdb"/>
<rect x="690" y="1237.36" width="3" height="17.64" fill="#26a69a"/>
<rect x="696" y="1233.95" width="3" height="21.05" fill="#26a69a"/>
<rect x="702" y="1233" width="3" height="22" fill="#26a69a"/>
<rect x="708" y="1234.41" width="3" height="20.59" fill="#b2dfdb"/>
<rect x="714" y="1236.98" width="3" height="18.02" fill="#b2dfdb"/>
<rect x="720" y="1240.25" width="3" height="14.75" fill="#b2dfdb"/>
<rect x="726" y="1242.54" width="3" height="12.46" fill="#b2dfdb"/>
<rect x="732" y="1243.44" width="3" height="11.56" fill="#b2dfdb"/>
<rect x="738" y="1240.53" width="3" height="14.47" fill="#26a69a"/>
<rect x="744" y="1238.16" width="3" height="16.84" fill="#26a69a"/>
<rect x="750" y="1230.81" width="3" height="24.19" fill="#26a69a"/>
<rect x="756" y="1219.99" width="3" height="35.01" fill="#26a69a"/>
<rect x="762" y="1218.59" width="3" height="36.41" fill="#26a69a"/>
<rect x="768" y="1224.29" width="3" height="30.71" fill="#b2dfdb"/>
<rect x="774" y="1232.36" width="3" height="22.64" fill="#b2dfdb"/>
<rect x="780" y="1236.35" width="3" height="18.65" fill="#b2dfdb"/>
<rect x="786" y="1237" width="3" height="18" fill="#b2dfdb"/>
<rect x="792" y="1239.46" width="3" height="15.54" fill="#b2dfdb"/>
<rect x="798" y="1248.71" width="3" height="6.29" fill="#b2dfdb"/>
<rect x="804" y="1253" width="3" height="2.45" fill="#ff5252"/>
<rect x="810" y="1253" width="3" height="6.67" fill="#ff5252"/>
<rect x="816" y="1253" width="3" height="10.38" fill="#ff5252"/>
<rect x="821" y="1253" width="3" height="12.33" fill="#ff5252"/>
<rect x="827" y="1253" width="3" height="13.33" fill="#ff5252"/>
<rect x="833" y="1253" width="3" height="14.04" fill="#ff5252"/>
<rect x="839" y="1253" width="3" height="13.63" fill="#ffcdd2"/>
<rect x="845" y="1253" width="3" height="12.3" fill="#ffcdd2"/>
<rect x="851" y="1253" width="3" height="15.89" fill="#ff5252"/>
<rect x="857" y="1253" width="3" height="19.14" fill="#ff5252"/>
<rect x="863" y="1253" width="3" height="20.78" fill="#ff5252"/>
<rect x="869" y="1253" width="3" height="21.99" fill="#ff5252"/>
<rect x="875" y="1253" width="3" height="23.19" fill="#ff5252"/>
<rect x="881" y="1253" width="3" height="21.48" fill="#ffcdd2"/>
<rect x="887" y="1253" width="3" height="18.99" fill="#ffcdd2"/>
<rect x="893" y="1253" width="3" height="18.27" fill="#ffcdd2"/>
<rect x="899" y="1253" width="3" height="19.72" fill="#ff5252"/>
<rect x="905" y="1253" width="3" height="19.81" fill="#ff5252"/>
<rect x="911" y="1253" width="3" height="19.52" fill="#ffcdd2"/>
<rect x="917" y="1253" width="3" height="20.03" fill="#ff5252"/>
<rect x="923" y="1253" width="3" height="19.88" fill="#ffcdd2"/>
<rect x="929" y="1253" width="3" height="18.29" fill="#ffcdd2"/>
<rect x="935" y="1253" width="3" height="12.44" fill="#ffcdd2"/>
<rect x="941" y="1253" width="3" height="7.3" fill="#ffcdd2"/>
<rect x="947" y="1253" width="3" height="3.58" fill="#ffcdd2"/>
<rect x="953" y="1253" width="3" height="1.6" fill="#ffcdd2"/>
<rect x="959" y="1253.4" width="3" height="1.6" fill="#26a69a"/>
<rect x="965" y="1253.4" width="3" height="1.6" fill="#b2dfdb"/>
<rect x="971" y="1253" width="3" height="2.5" fill="#ff5252"/>
<rect x="977" y="1253" width="3" height="2.14" fill="#ffcdd2"/>
<rect x="983" y="1253" width="3" height="4.32" fill="#ff5252"/>
<rect x="989" y="1253" width="3" height="3.8" fill="#ffcdd2"/>
<rect x="995" y="1252.9" width="3" height="2.1" fill="#26a69a"/>
<rect x="1001" y="1251.51" width="3" height="3.49" fill="#26a69a"/>
<rect x="1007" y="1250.88" width="3" height="4.12" fill="#26a69a"/>
<rect x="1013" y="1247.23" width="3" height="7.77" fill="#26a69a"/>
<rect x="1019" y="1237.92" width="3" height="17.08" fill="#26a69a"/>
<rect x="1025" y="1230.38" width="3" height="24.62" fill="#26a69a"/>
<rect x="1031" y="1226.88" width="3" height="28.12" fill="#26a69a"/>
<rect x="1037" y="1228.02" width="3" height="26.98" fill="#b2dfdb"/>
<rect x="1043" y="1234.82" width="3" height="20.18" fill="#b2dfdb"/>
<rect x="1049" y="1238.32" width="3" height="16.68" fill="#b2dfdb"/>
<rect x="1055" y="1240.98" width="3" height="14.02" fill="#b2dfdb"/>
<rect x="1061" y="1243.18" width="3" height="11.82" fill="#b2dfdb"/>
<rect x="1067" y="1247" width="3" height="8" fill="#b2dfdb"/>
<rect x="1073" y="1250.16" width="3" height="4.84" fill="#b2dfdb"/>
<rect x="1079" y="1253.4" width="3" height="1.6" fill="#b2dfdb"/>
<rect x="1085" y="1253" width="3" height="4.91" fill="#ff5252"/>
<rect x="1091" y="1253" width="3" height="7.51" fill="#ff5252"/>
<rect x="1097" y="1253" width="3" height="8.85" fill="#ff5252"/>
<rect x="1103" y="1253" width="3" height="9.33" fill="#ff5252"/>
<rect x="1109" y="1253" width="3" height="9.57" fill="#ff5252"/>
<rect x="1115" y="1253" width="3" height="10.48" fill="#ff5252"/>
<rect x="1121" y="1253" width="3" height="12.54" fill="#ff5252"/>
<rect x="1127" y="1253" width="3" height="17.54" fill="#ff5252"/>
<rect x="1133" y="1253" width="3" height="20.13" fill="#ff5252"/>
<rect x="1139" y="1253" width="3" height="22.47" fill="#ff5252"/>
<rect x="1145" y="1253" width="3" height="26.06" fill="#ff5252"/>
<rect x="1151" y="1253" width="3" height="28.96" fill="#ff5252"/>
<rect x="1157" y="1253" width="3" height="30.05" fill="#ff5252"/>
<rect x="1162" y="1253" width="3" height="29.05" fill="#ffcdd2"/>
<rect x="1168" y="1253" width="3" height="26.27" fill="#ffcdd2"/>
<rect x="1174" y="1253" width="3" height="22.11" fill="#ffcdd2"/>
<rect x="1180" y="1253" width="3" height="18.13" fill="#ffcdd2"/>
<rect x="1186" y="1253" width="3" height="14.54" fill="#ffcdd2"/>
<rect x="1192" y="1253" width="3" height="9.76" fill="#ffcdd2"/>
<rect x="1198" y="1253" width="3" height="2.88" fill="#ffcdd2"/>
<rect x="1204" y="1250.35" width="3" height="4.65" fill="#26a69a"/>
<rect x="1210" y="1247.6" width="3" height="7.4" fill="#26a69a"/>
<rect x="1216" y="1246.93" width="3" height="8.07" fill="#26a69a"/>
<rect x="1222" y="1248.95" width="3" height="6.05" fill="#b2dfdb"/>
<rect x="1228" y="1247.06" width="3" height="7.94" fill="#26a69a"/>
<rect x="1234" y="1247" width="3" height="8" fill="#26a69a"/>
<rect x="1240" y="1249.25" width="3" height="5.75" fill="#b2dfdb"/>
<rect x="1246" y="1250.83" width="3" height="4.17" fill="#b2dfdb"/>
<rect x="1252" y="1251.84" width="3" height="3.16" fill="#b2dfdb"/>
<rect x="1258" y="1253" width="3" height="3.82" fill="#ff5252"/>
<rect x="1264" y="1253" width="3" height="6.67" fill="#ff5252"/>
<rect x="1270" y="1253" width="3" height="9.84" fill="#ff5252"/>
<rect x="1276" y="1253" width="3" height="11.97" fill="#ff5252"/>
<rect x="1282" y="1253" width="3" height="13.11" fill="#ff5252"/>
<rect x="1288" y="1253" width="3" height="13.51" fill="#ff5252"/>
<rect x="1294" y="1251.49" width="3" height="3.51" fill="#26a69a"/>
<rect x="1300" y="1251.62" width="3" height="3.38" fill="#b2dfdb"/>
<rect x="1306" y="1250.98" width="3" height="4.02" fill="#26a69a"/>
<rect x="1312" y="1249.37" width="3" height="5.63" fill="#26a69a"/>
<rect x="1318" y="1246.68" width="3" height="8.32" fill="#26a69a"/>
<rect x="1324" y="1248.28" width="3" height="6.72" fill="#b2dfdb"/>
<rect x="1330" y="1251.19" width="3" height="3.81" fill="#b2dfdb"/>
<rect x="1336" y="1253" width="3" height="3.46" fill="#ff5252"/>
<rect x="1342" y="1253" width="3" height="7.92" fill="#ff5252"/>
<rect x="1348" y="1253" width="3" height="8.91" fill="#ff5252"/>
<rect x="1354" y="1253" width="3" height="7.73" fill="#ffcdd2"/>
<rect x="1360" y="1253" width="3" height="5.57" fill="#ffcdd2"/>
<rect x="1366" y="1253" width="3" height="1.72" fill="#ffcdd2"/>
<rect x="1372" y="1251.58" width="3" height="3.42" fill="#26a69a"/>
<rect x="1378" y="1251.2" width="3" height="3.8" fill="#26a69a"/>
<rect x="1384" y="1250.05" width="3" height="4.95" fill="#26a69a"/>
<rect x="1390" y="1250.18" width="3" height="4.82" fill="#b2dfdb"/>
<rect x="1396" y="1246.68" width="3" height="8.32" fill="#26a69a"/>
<rect x="1402" y="1245.42" width="3" height="9.58" fill="#26a69a"/>
<rect x="1408" y="1245.68" width="3" height="9.32" fill="#b2dfdb"/>
<rect x="1414" y="1246.8" width="3" height="8.2" fill="#b2dfdb"/>
<rect x="1420" y="1246.55" width="3" height="8.45" fill="#26a69a"/>
<rect x="1426" y="1246.66" width="3" height="8.34" fill="#b2dfdb"/>
<rect x="1432" y="1247.14" width="3" height="7.86" fill="#b2dfdb"/>
<rect x="1438" y="1248.59" width="3" height="6.41" fill="#b2dfdb"/>
<rect x="1444" y="1250.46" width="3" height="4.54" fill="#b2dfdb"/>
<rect x="1450" y="1253" width="3" height="2.17" fill="#ff5252"/>
<rect x="1456" y="1253" width="3" height="5.77" fill="#ff5252"/>
<rect x="1462" y="1253" width="3" height="7.49" fill="#ff5252"/>
<rect x="1468" y="1253" width="3" height="8.53" fill="#ff5252"/>
<rect x="1474" y="1253" width="3" height="8.61" fill="#ff5252"/>
<rect x="1480" y="1253" width="3" height="8.94" fill="#ff5252"/>
<rect x="1486" y="1253" width="3" height="8.69" fill="#ffcdd2"/>
<rect x="1492" y="1253" width="3" height="7.45" fill="#ffcdd2"/>
<rect x="1497" y="1253" width="3" height="5.16" fill="#ffcdd2"/>
<rect x="1503" y="1253" width="3" height="6.46" fill="#ff5252"/>
<rect x="1509" y="1253" width="3" height="8.03" fill="#ff5252"/>
<rect x="1515" y="1253" width="3" height="9.94" fill="#ff5252"/>
<rect x="1521" y="1253" width="3" height="6.45" fill="#ffcdd2"/>
<rect x="1527" y="1253" width="3" height="4.55" fill="#ffcdd2"/>
<rect x="1533" y="1253" width="3" height="2.17" fill="#ffcdd2"/>
<rect x="1539" y="1250.32" width="3" height="4.68" fill="#26a69a"/>
<rect x="1545" y="1248.24" width="3" height="6.76" fill="#26a69a"/>
<rect x="1551" y="1247.24" width="3" height="7.76" fill="#26a69a"/>
<rect x="1557" y="1247.14" width="3" height="7.86" fill="#26a69a"/>
<rect x="1563" y="1247.37" width="3" height="7.63" fill="#b2dfdb"/>
<rect x="1569" y="1247.88" width="3" height="7.12" fill="#b2dfdb"/>
<rect x="1575" y="1248.46" width="3" height="6.54" fill="#b2dfdb"/>
<rect x="1581" y="1248.77" width="3" height="6.23" fill="#b2dfdb"/>
<rect x="1587" y="1249.17" width="3" height="5.83" fill="#b2dfdb"/>
<rect x="1593" y="1249.29" width="3" height="5.71" fill="#b2dfdb"/>
<rect x="1599" y="1247.29" width="3" height="7.71" fill="#26a69a"/>
<rect x="1605" y="1246.07" width="3" height="8.93" fill="#26a69a"/>
<rect x="1611" y="1245.74" width="3" height="9.26" fill="#26a69a"/>
<rect x="1617" y="1245.94" width="3" height="9.06" fill="#b2dfdb"/>
<rect x="1623" y="1246.63" width="3" height="8.37" fill="#b2dfdb"/>
<rect x="1629" y="1246.33" width="3" height="8.67" fill="#26a69a"/>
<rect x="1635" y="1245.87" width="3" height="9.13" fill="#26a69a"/>
<rect x="1641" y="1247.27" width="3" height="7.73" fill="#b2dfdb"/>
<rect x="1647" y="1248.66" width="3" height="6.34" fill="#b2dfdb"/>
<rect x="1653" y="1249.91" width="3" height="5.09" fill="#b2dfdb"/>
<rect x="1659" y="1250.95" width="3" height="4.05" fill="#b2dfdb"/>
<rect x="1665" y="1252.06" width="3" height="2.94" fill="#b2dfdb"/>
<rect x="1671" y="1253.4" width="3" height="1.6" fill="#b2dfdb"/>
<rect x="1677" y="1253" width="3" height="2.53" fill="#ff5252"/>
<rect x="1683" y="1253" width="3" height="2.74" fill="#ff5252"/>
<rect x="1689" y="1253" width="3" height="2.84" fill="#ff5252"/>
<rect x="1695" y="1252.66" width="3" height="2.34" fill="#26a69a"/>
<rect x="1701" y="1249.82" width="3" height="5.18" fill="#26a69a"/>
<rect x="1707" y="1247.13" width="3" height="7.87" fill="#26a69a"/>
<rect x="1713" y="1247.46" width="3" height="7.54" fill="#b2dfdb"/>
<rect x="1719" y="1245.56" width="3" height="9.44" fill="#26a69a"/>
<rect x="1725" y="1242.86" width="3" height="12.14" fill="#26a69a"/>
<rect x="1731" y="1242.44" width="3" height="12.56" fill="#26a69a"/>
<rect x="1737" y="1246.37" width="3" height="8.63" fill="#b2dfdb"/>
<rect x="1743" y="1249.89" width="3" height="5.11" fill="#b2dfdb"/>
<rect x="1749" y="1252.78" width="3" height="2.22" fill="#b2dfdb"/>
<rect x="1755" y="1253.37" width="3" height="1.63" fill="#b2dfdb"/>
<rect x="1761" y="1253" width="3" height="2.1" fill="#ff5252"/>
<rect x="1767" y="1253" width="3" height="3.71" fill="#ff5252"/>
<rect x="1773" y="1253" width="3" height="3.85" fill="#ff5252"/>
<rect x="1779" y="1253" width="3" height="4.04" fill="#ff5252"/>
<rect x="1785" y="1253" width="3" height="5.54" fill="#ff5252"/>
<rect x="1791" y="1253" width="3" height="6.71" fill="#ff5252"/>
<rect x="1797" y="1253" width="3" height="7.09" fill="#ff5252"/>
<rect x="1803" y="1253" width="3" height="7.45" fill="#ff5252"/>
<rect x="1809" y="1253" width="3" height="7.7" fill="#ff5252"/>
<rect x="1815" y="1253" width="3" height="8.02" fill="#ff5252"/>
<rect x="1821" y="1253" width="3" height="8.35" fill="#ff5252"/>
<rect x="1827" y="1253" width="3" height="9.14" fill="#ff5252"/>
<rect x="1833" y="1253" width="3" height="10.15" fill="#ff5252"/>
<rect x="1838" y="1253" width="3" height="10.5" fill="#ff5252"/>
<rect x="1844" y="1253" width="3" height="9.36" fill="#ffcdd2"/>
<rect x="1850" y="1253" width="3" height="7.46" fill="#ffcdd2"/>
<rect x="1856" y="1253" width="3" height="6.5" fill="#ffcdd2"/>
<rect x="1862" y="1253" width="3" height="7.19" fill="#ff5252"/>
<rect x="1868" y="1253" width="3" height="7.02" fill="#ffcdd2"/>
<rect x="1874" y="1253" width="3" height="5.92" fill="#ffcdd2"/>
<rect x="1880" y="1253" width="3" height="3.22" fill="#ffcdd2"/>
<rect x="1886" y="1253.25" width="3" height="1.75" fill="#26a69a"/>
<rect x="1892" y="1251.61" width="3" height="3.39" fill="#26a69a"/>
<rect x="1898" y="1250.17" width="3" height="4.83" fill="#26a69a"/>
<line x1="20" y1="1254" x2="2143" y2="1254" stroke="#787b86" stroke-opacity="0.55" stroke-width="2" stroke-dasharray="10 12"/>
<polyline fill="none" stroke="#2a2aff" stroke-width="2" stroke-linejoin="round" stroke-linecap="round" points="20,1246.25 30,1248 40,1251.25 51.25,1254 65,1251.5 95,1252.5 132.5,1252.5 150,1250.75 165,1250 180,1251.5 207.5,1253.75 232.5,1255 250,1257 270,1256.75 285,1254.5 300,1253 332.5,1251.25 357.5,1251.25 375,1249.5 387.5,1250 400,1253.75 415,1255.75 440,1257.5 460,1257 482.5,1255.5 507.5,1254.5 532.5,1256.25 557.5,1256.5 587.5,1256.75 590,1256.25 600,1255 615,1253.5 630,1251.25 637.5,1247.5 647.5,1242.5 655,1236.25 662.5,1226.25 670,1218.75 677.5,1213.75 685,1210.75 691.25,1206.25 697.5,1198 705,1191.25 712.5,1188.5 720,1188.25 727.5,1187.75 733.75,1186 740,1179.5 746.25,1172.5 751.25,1160 756.25,1143.75 760,1136.25 763.75,1131.75 768.75,1130 775,1132.5 781.25,1131.75 787.5,1128 793.75,1127 798.75,1135 805,1142 811.25,1147.5 818.75,1155 826.25,1160 833.75,1165 841.25,1168.25 847.5,1170 853.75,1178 860,1186.25 870,1197.5 878.75,1207.5 886.25,1212.5 893.75,1217 902.5,1226.25 912.5,1233.75 922.5,1242.5 930,1246 938.75,1241.25 947.5,1235.75 957.5,1232.5 965,1231.75 972.5,1234.25 978.75,1234.5 985,1237.5 990,1237.75 995,1233.75 1002.5,1231.25 1008.75,1229.5 1013.75,1225.5 1018.75,1215 1025,1200 1031.25,1188.75 1037.5,1181.75 1043.75,1184 1051.25,1183 1057.5,1182 1062.5,1182 1070,1184.5 1077.5,1188 1085,1193.75 1092.5,1198.75 1100,1202.5 1107.5,1205.5 1113.75,1208 1120,1212.5 1125,1220 1130,1229.5 1136.25,1237.5 1142.5,1248.25 1148.75,1261.25 1155,1271.25 1160,1276.25 1167.5,1282 1175,1285 1182.5,1286 1188.75,1285 1195,1281.25 1201.25,1273.75 1207.5,1267.5 1212.5,1264.5 1218.75,1262.5 1223.75,1263.5 1230,1260 1236.25,1258.5 1242.5,1260 1248.75,1260.75 1254.5,1261.25 1260,1267.5 1266.25,1272.5 1272.5,1278.75 1280,1285 1286.25,1288.75 1290,1290 1295,1274.5 1301.25,1273.75 1307.5,1272 1313.75,1268.75 1320,1264.5 1326.25,1265.5 1332.5,1268.25 1338.75,1275 1345,1281.25 1351.25,1283 1357.5,1282.5 1363.75,1280.75 1371.25,1274.5 1378.75,1273 1386.25,1270.5 1392.5,1270 1398.75,1263 1406.25,1260 1415,1259 1422.5,1256.25 1430,1254.25 1435,1253.5 1441.25,1254.5 1446.25,1255.5 1451.25,1260 1457.5,1265 1465,1269.25 1471.25,1272 1477.5,1273.75 1482.5,1276.25 1488.75,1278 1495,1277.75 1500,1277 1506.25,1281.25 1512.5,1285 1518,1289 1523.75,1285.75 1530,1285 1535,1283 1540,1278 1546.25,1274.5 1552.5,1272 1560,1270 1567.5,1268.5 1575,1267.5 1582.5,1266 1590,1265 1595,1263.75 1601.25,1259.5 1608.75,1255.5 1616.25,1253 1623.75,1251.75 1630,1249.5 1635,1247 1642.5,1246.5 1650,1246.75 1657.5,1247 1665,1247.5 1671.25,1249 1677.5,1251.25 1683.75,1251.75 1690,1252.5 1695,1249.5 1701.25,1246.25 1707.5,1241.25 1715,1239.25 1721.25,1234.25 1726.25,1229.5 1730,1226.75 1733.75,1226.25 1740,1229.25 1750,1233 1757.5,1233.75 1767.5,1237.5 1780,1238.75 1790,1243.25 1802.5,1247 1815,1250.75 1825,1254.5 1832.5,1258.75 1840,1262 1847.5,1263 1855,1262.5 1860,1263.75 1866.25,1266.25 1873.75,1266.75 1880,1265 1886.25,1261.25 1893.75,1258.25 1900.5,1255.5"/>
<polyline fill="none" stroke="#f0562f" stroke-width="2" stroke-linejoin="round" stroke-linecap="round" points="20,1245 35,1246.25 55,1249.5 70,1250.5 95,1251.25 132.5,1252.75 150,1252 170,1251.25 195,1252 220,1253.5 245,1255 270,1256 290,1255 320,1253 345,1251.75 370,1251.5 387.5,1251 400,1252 420,1254.5 445,1256.25 470,1256.75 495,1256 520,1255.25 545,1255.75 570,1256.5 587.5,1257 590,1257 605,1256 620,1255 635,1253.25 647.5,1250 657.5,1245 667.5,1238 677.5,1231.25 690,1223.75 700,1216.25 710,1208.75 720,1202.5 730,1198 737.5,1195 746.25,1188.75 753.75,1180.5 762.5,1168.75 770,1158.75 777.5,1152 786.25,1145.75 793.75,1141.25 802.5,1140.25 810,1141.25 820,1145 830,1150 840,1155 851.25,1160.75 860,1167.5 868.75,1175.5 877.5,1183.75 887.5,1195 897.5,1203 907.5,1211.25 917.5,1219.25 927.5,1226.75 935,1230.5 942.5,1232.5 952.5,1233 962.5,1232.5 972.5,1232.75 982.5,1233.75 992.5,1234.75 1002.5,1233.75 1012.5,1232 1020,1227.5 1028.75,1218.75 1037.5,1208.75 1047.5,1200.5 1057.5,1194.5 1067.5,1191 1077.5,1190 1087.5,1190.75 1097.5,1193.5 1107.5,1197 1117.5,1200.75 1125,1206.25 1132.5,1213.75 1140,1222.5 1147.5,1232.5 1155,1242.5 1160,1247 1167.5,1255 1175,1263.25 1182.5,1269.25 1190,1272.5 1197.5,1273.75 1205,1273 1215,1270.5 1225,1268.25 1235,1265.75 1245,1264 1255,1263.25 1262.5,1265 1270,1268.25 1277.5,1272 1285,1275.75 1290,1277.5 1297.5,1276.75 1307.5,1275 1317.5,1272.5 1327.5,1270.75 1335,1270.5 1342.5,1272.5 1352.5,1275.5 1362.5,1277 1370,1277 1380,1275.5 1392.5,1273.75 1402.5,1270 1412.5,1267 1422.5,1263.75 1432.5,1260.75 1442.5,1259 1450,1258.5 1457.5,1260 1467.5,1263 1477.5,1266.25 1487.5,1270 1497.5,1272.5 1507.5,1275.75 1517.5,1279.5 1525,1281.25 1533.75,1282 1542.5,1281 1552.5,1278.75 1562.5,1276.25 1572.5,1273.75 1582.5,1271.25 1592.5,1269.25 1602.5,1266 1612.5,1262.5 1622.5,1259.5 1632.5,1256.25 1642.5,1253.25 1652.5,1251.25 1662.5,1250 1672.5,1249.5 1682.5,1250 1692.5,1250.5 1702.5,1249.5 1712.5,1246.75 1722.5,1242.5 1727.5,1240 1730,1238.75 1740,1235.5 1750,1234.25 1760,1234.25 1770,1235 1780,1235.75 1792.5,1238.25 1805,1241.25 1817.5,1244.5 1830,1248.75 1840,1252.5 1850,1255.75 1860,1258.25 1870,1260.5 1880,1261.75 1890,1261.25 1900.5,1259.5"/>
</g>
<text x="35.85" y="1147" font-size="23.8" fill="#131722" stroke="#131722" stroke-width="0.3" letter-spacing="0.507">MACD (12, 26, close)</text>
<text x="287.77" y="1147" font-size="23.8" fill="#22ab94" stroke="#22ab94" stroke-width="0.3" letter-spacing="0.726">0.0142</text>
<text x="377.83" y="1147" font-size="23.8" fill="#2a2aff" stroke="#2a2aff" stroke-width="0.3" letter-spacing="1.502">−0.0068</text>
<text x="487.83" y="1147" font-size="23.8" fill="#f4511e" stroke="#f4511e" stroke-width="0.3" letter-spacing="0.568">−0.0210</text>
<rect x="21" y="821" width="2266" height="2" fill="#e0e3eb"/>
<rect x="21" y="903" width="2266" height="2" fill="#e0e3eb"/>
<rect x="21" y="1105" width="2266" height="2" fill="#e0e3eb"/>
<rect x="21" y="1308" width="2266" height="2" fill="#e0e3eb"/>
<rect x="2144" y="55" width="2" height="1308" fill="#dfe0e4"/>
<rect x="2152" y="62" width="128" height="52" rx="8" fill="#fff" stroke="#ebebee" stroke-width="1.5"/>
<text x="2169.41" y="96.3" font-size="23.8" fill="#131722" stroke="#131722" stroke-width="0.3" letter-spacing="0.032">USDT</text>
<g clip-path="url(#cAxMain)">
<text x="2162.84" y="147.79" font-size="23.8" fill="#131722" stroke="#131722" stroke-width="0.3" letter-spacing="1.808">3.4000</text>
<text x="2162.84" y="213.59" font-size="23.8" fill="#131722" stroke="#131722" stroke-width="0.3" letter-spacing="1.808">3.2000</text>
<text x="2162.84" y="277.6" font-size="23.8" fill="#131722" stroke="#131722" stroke-width="0.3" letter-spacing="1.808">3.0000</text>
<text x="2162.55" y="342.74" font-size="23.8" fill="#131722" stroke="#131722" stroke-width="0.3" letter-spacing="1.866">2.8000</text>
<text x="2162.55" y="407.88" font-size="23.8" fill="#131722" stroke="#131722" stroke-width="0.3" letter-spacing="1.866">2.6000</text>
<text x="2162.55" y="473.02" font-size="23.8" fill="#131722" stroke="#131722" stroke-width="0.3" letter-spacing="1.866">2.4000</text>
<text x="2162.55" y="538.16" font-size="23.8" fill="#131722" stroke="#131722" stroke-width="0.3" letter-spacing="1.866">2.2000</text>
<text x="2162.55" y="603.3" font-size="23.8" fill="#131722" stroke="#131722" stroke-width="0.3" letter-spacing="1.866">2.0000</text>
<text x="2161.94" y="669.49" font-size="23.8" fill="#131722" stroke="#131722" stroke-width="0.3" letter-spacing="1.990">1.8000</text>
<text x="2161.94" y="733.58" font-size="23.8" fill="#131722" stroke="#131722" stroke-width="0.3" letter-spacing="1.990">1.6000</text>
<text x="2161.94" y="798.72" font-size="23.8" fill="#131722" stroke="#131722" stroke-width="0.3" letter-spacing="1.990">1.4000</text>
<path d="M2146 251.2H2252Q2256 251.2 2256 255.2V281Q2256 285 2252 285H2146Z" fill="#2e2e2e"/>
<text x="2162.84" y="276.29" font-size="23.8" fill="#fff" stroke="#fff" stroke-width="0.3" letter-spacing="1.808">3.0040</text>
<path d="M2146 313.2H2252Q2256 313.2 2256 317.2V343Q2256 347 2252 347H2146Z" fill="#673ab7"/>
<text x="2162.55" y="338.29" font-size="23.8" fill="#fff" stroke="#fff" stroke-width="0.3" letter-spacing="1.906">2.8139</text>
<path d="M2146 365.5H2252Q2256 365.5 2256 369.5V395.3Q2256 399.3 2252 399.3H2146Z" fill="#673ab7"/>
<text x="2162.55" y="390.59" font-size="23.8" fill="#fff" stroke="#fff" stroke-width="0.3" letter-spacing="1.913">2.6531</text>
<path d="M2146 411.9H2252Q2256 411.9 2256 415.9V441.7Q2256 445.7 2252 445.7H2146Z" fill="#673ab7"/>
<text x="2162.55" y="436.99" font-size="23.8" fill="#fff" stroke="#fff" stroke-width="0.3" letter-spacing="1.880">2.5095</text>
<path d="M2146 471.25H2274Q2278 471.25 2278 475.25V529Q2278 533 2274 533H2146Z" fill="#26a69a"/>
<text x="2162.55" y="495.69" font-size="23.8" fill="#fff" stroke="#fff" stroke-width="0.3" letter-spacing="1.890">2.3303</text>
<text x="2162.32" y="523.94" font-size="23.8" fill="#d5edea" stroke="#d5edea" stroke-width="0.3" letter-spacing="1.773">08:56:09</text>
<path d="M2146 533H2252Q2256 533 2256 537V563Q2256 567 2252 567H2146Z" fill="#ff2626"/>
<text x="2162.55" y="558.19" font-size="23.8" fill="#fff" stroke="#fff" stroke-width="0.3" letter-spacing="1.920">2.2667</text>
<path d="M2146 567H2252Q2256 567 2256 571V597Q2256 601 2252 601H2146Z" fill="#673ab7"/>
<text x="2162.55" y="592.19" font-size="23.8" fill="#fff" stroke="#fff" stroke-width="0.3" letter-spacing="1.820">2.2614</text>
<path d="M2146 601H2252Q2256 601 2256 605V631Q2256 635 2252 635H2146Z" fill="#2962ff"/>
<text x="2162.55" y="626.19" font-size="23.8" fill="#fff" stroke="#fff" stroke-width="0.3" letter-spacing="1.906">2.2589</text>
<path d="M2146 635H2252Q2256 635 2256 639V664.6Q2256 668.6 2252 668.6H2146Z" fill="#9c27b0"/>
<text x="2162.55" y="659.99" font-size="23.8" fill="#fff" stroke="#fff" stroke-width="0.3" letter-spacing="1.890">2.0906</text>
<path d="M2146 705.5H2252Q2256 705.5 2256 709.5V735.3Q2256 739.3 2252 739.3H2146Z" fill="#673ab7"/>
<text x="2161.94" y="730.59" font-size="23.8" fill="#fff" stroke="#fff" stroke-width="0.3" letter-spacing="2.029">1.6119</text>
<path d="M2146 786.75H2260.25Q2264.25 786.75 2264.25 790.75V817Q2264.25 821 2260.25 821H2146Z" fill="#26a69a"/>
<text x="2162.53" y="812.09" font-size="23.8" fill="#fff" stroke="#fff" stroke-width="0.3" letter-spacing="1.421">77.97 M</text>
</g>
<text x="2162.82" y="870.69" font-size="23.8" fill="#131722" stroke="#131722" stroke-width="0.3" letter-spacing="1.813">0.0000</text>
<text x="2161.97" y="967.44" font-size="23.8" fill="#131722" stroke="#131722" stroke-width="0.3" letter-spacing="2.039">80.00</text>
<text x="2162.45" y="1046.19" font-size="23.8" fill="#131722" stroke="#131722" stroke-width="0.3" letter-spacing="1.917">40.00</text>
<path d="M2146 986.5H2236Q2240 986.5 2240 990.5V1016Q2240 1020 2236 1020H2146Z" fill="#7e57c2"/>
<text x="2162.05" y="1011.44" font-size="23.8" fill="#fff" stroke="#fff" stroke-width="0.3" letter-spacing="2.068">57.69</text>
<g clip-path="url(#cAxMacd)">
<text x="2162.82" y="1118.59" font-size="23.8" fill="#131722" stroke="#131722" stroke-width="0.3" letter-spacing="1.813">0.5000</text>
<path d="M2146 1233H2252Q2256 1233 2256 1237V1263Q2256 1267 2252 1267H2146Z" fill="#26a69a"/>
<text x="2162.82" y="1258.19" font-size="23.8" fill="#fff" stroke="#fff" stroke-width="0.3" letter-spacing="1.866">0.0142</text>
<path d="M2146 1267H2266Q2270 1267 2270 1271V1297.2Q2270 1301.2 2266 1301.2H2146Z" fill="#3127ff"/>
<text x="2162.08" y="1292.29" font-size="23.8" fill="#fff" stroke="#fff" stroke-width="0.3" letter-spacing="1.836">−0.0068</text>
<path d="M2146 1301.2H2266Q2270 1301.2 2270 1305.2V1331Q2270 1335 2266 1335H2146Z" fill="#f05a38"/>
<text x="2162.08" y="1326.19" font-size="23.8" fill="#fff" stroke="#fff" stroke-width="0.3" letter-spacing="1.818">−0.0210</text>
</g>
<g clip-path="url(#cTime)">
<text x="-1.65" y="1346" font-size="23.8" fill="#131722" stroke="#131722" stroke-width="0.3" letter-spacing="1.617">Aug</text>
<text x="184.92" y="1346" font-size="23.8" fill="#131722" stroke="#131722" stroke-width="0.3" letter-spacing="0.866">Sep</text>
<text x="365.37" y="1346" font-size="23.8" fill="#131722" stroke="#131722" stroke-width="0.3" letter-spacing="1.888">Oct</text>
<text x="548.55" y="1346" font-size="23.8" fill="#131722" stroke="#131722" stroke-width="0.3" letter-spacing="1.355">Nov</text>
<text x="727.55" y="1346" font-size="23.8" fill="#131722" stroke="#131722" stroke-width="0.3" letter-spacing="1.878">Dec</text>
<text x="1100.05" y="1346" font-size="23.8" fill="#131722" stroke="#131722" stroke-width="0.3" letter-spacing="1.220">Feb</text>
<text x="1266.05" y="1346" font-size="23.8" fill="#131722" stroke="#131722" stroke-width="0.3" letter-spacing="2.180">Mar</text>
<text x="1455.95" y="1346" font-size="23.8" fill="#131722" stroke="#131722" stroke-width="0.3" letter-spacing="1.203">Apr</text>
<text x="1629.55" y="1346" font-size="23.8" fill="#131722" stroke="#131722" stroke-width="0.3" letter-spacing="1.518">May</text>
<text x="1820.13" y="1346" font-size="23.8" fill="#131722" stroke="#131722" stroke-width="0.3" letter-spacing="1.522">Jun</text>
<text x="2003.13" y="1346" font-size="23.8" fill="#131722" stroke="#131722" stroke-width="0.3" letter-spacing="1.520">Jul</text>
<text x="905.17" y="1346" font-size="23.8" fill="#131722" stroke="#131722" stroke-width="0.3" letter-spacing="3.681" font-weight="bold">2025</text>
</g>
<g fill="#131313">
<polygon points="20,1388.2 35.4,1388.2 35.4,1407.4 27.4,1407.4 27.4,1395.9 20,1395.9"/>
<circle cx="42.1" cy="1392.4" r="4.2"/>
<polygon points="50.4,1388.2 59,1388.2 50.9,1407.4 42.4,1407.4"/>
</g>
<text x="66.42" y="1408.7" font-size="26" fill="#131313" stroke="#131313" stroke-width="0.3" letter-spacing="0.381">TradingView</text>
</svg></body></html>
